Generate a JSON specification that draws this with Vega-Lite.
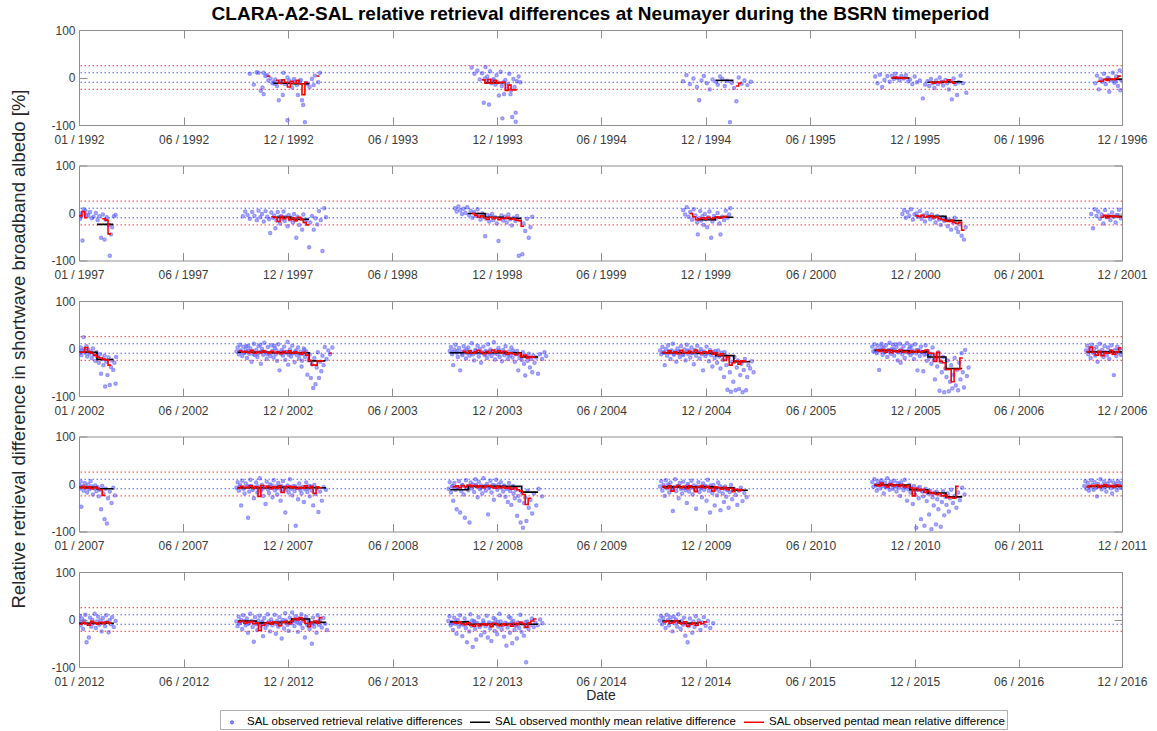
{
  "$schema": "https://vega.github.io/schema/vega-lite/v6.json",
  "background": "white",
  "padding": {"left": 9, "top": 4, "right": 5, "bottom": 0},
  "title": {"text": "CLARA-A2-SAL relative retrieval differences at Neumayer during the BSRN timeperiod", "fontSize": 19, "fontWeight": "bold", "font": "Liberation Sans", "color": "#000000", "anchor": "middle", "offset": 0, "dx": 22},
  "config": {
    "font": "Liberation Sans",
    "view": {"stroke": "#8f8f8f", "strokeWidth": 1},
    "axis": {"domain": false, "grid": false, "tickSize": -8, "tickColor": "#8f8f8f", "tickWidth": 1, "labelFont": "Liberation Sans", "labelFontSize": 12, "labelColor": "#3a3a3a", "titleFont": "Liberation Sans", "titleFontWeight": "normal", "titleColor": "#262626"},
    "axisX": {"labelPadding": 17, "labelFlush": false},
    "axisY": {"labelPadding": 12}
  },
  "bounds": "flush",
  "spacing": 40.5,
  "resolve": {"scale": {"x": "independent", "y": "independent"}},
  "datasets": {
    "ref": [{"v": 25}, {"v": -25}, {"v": 10}, {"v": -10}],
    "pts1": [
      {"t":"1992-10-21","v":8},{"t":"1992-10-28","v":-15},{"t":"1992-11-02","v":11},{"t":"1992-11-05","v":10},{"t":"1992-11-09","v":-28},{"t":"1992-11-12","v":-21},{"t":"1992-11-14","v":-35},{"t":"1992-11-14","v":10},{"t":"1992-11-17","v":3},{"t":"1992-11-20","v":5},{"t":"1992-11-22","v":-6},{"t":"1992-11-26","v":-2},{"t":"1992-11-29","v":-12},{"t":"1992-12-01","v":-10},{"t":"1992-12-03","v":-13},{"t":"1992-12-04","v":-4},{"t":"1992-12-07","v":-18},{"t":"1992-12-10","v":-48},{"t":"1992-12-13","v":-8},{"t":"1992-12-15","v":-11},{"t":"1992-12-17","v":-37},{"t":"1992-12-18","v":10},{"t":"1992-12-21","v":-14},{"t":"1992-12-25","v":0},{"t":"1992-12-25","v":-90},{"t":"1992-12-28","v":-6},{"t":"1993-01-02","v":-21},{"t":"1993-01-05","v":-3},{"t":"1993-01-07","v":-10},{"t":"1993-01-10","v":-16},{"t":"1993-01-12","v":-37},{"t":"1993-01-15","v":-8},{"t":"1993-01-17","v":-5},{"t":"1993-01-19","v":-48},{"t":"1993-01-21","v":-58},{"t":"1993-01-24","v":-94},{"t":"1993-01-26","v":-12},{"t":"1993-01-28","v":-13},{"t":"1993-02-01","v":-20},{"t":"1993-02-05","v":-3},{"t":"1993-02-08","v":-16},{"t":"1993-02-10","v":4},{"t":"1993-02-16","v":-10},{"t":"1993-02-19","v":10},
      {"t":"1993-11-07","v":21},{"t":"1993-11-12","v":8},{"t":"1993-11-17","v":15},{"t":"1993-11-21","v":-4},{"t":"1993-11-25","v":9},{"t":"1993-11-28","v":-53},{"t":"1993-11-30","v":-2},{"t":"1993-12-01","v":22},{"t":"1993-12-02","v":-8},{"t":"1993-12-04","v":2},{"t":"1993-12-07","v":-57},{"t":"1993-12-09","v":13},{"t":"1993-12-11","v":-12},{"t":"1993-12-13","v":-6},{"t":"1993-12-15","v":-3},{"t":"1993-12-16","v":-9},{"t":"1993-12-18","v":-15},{"t":"1993-12-20","v":5},{"t":"1993-12-22","v":-10},{"t":"1993-12-24","v":-38},{"t":"1993-12-27","v":12},{"t":"1993-12-29","v":-18},{"t":"1993-12-30","v":-86},{"t":"1994-01-01","v":-10},{"t":"1994-01-02","v":-35},{"t":"1994-01-04","v":-5},{"t":"1994-01-07","v":-23},{"t":"1994-01-09","v":-14},{"t":"1994-01-11","v":8},{"t":"1994-01-13","v":-35},{"t":"1994-01-14","v":-27},{"t":"1994-01-16","v":-83},{"t":"1994-01-18","v":-3},{"t":"1994-01-20","v":-20},{"t":"1994-01-22","v":-74},{"t":"1994-01-22","v":-93},{"t":"1994-01-24","v":-8},{"t":"1994-01-27","v":2},{"t":"1994-01-30","v":-10},
      {"t":"1994-11-06","v":-8},{"t":"1994-11-12","v":5},{"t":"1994-11-18","v":-14},{"t":"1994-11-24","v":-2},{"t":"1994-11-30","v":-20},{"t":"1994-12-04","v":-48},{"t":"1994-12-08","v":-6},{"t":"1994-12-12","v":3},{"t":"1994-12-17","v":-12},{"t":"1994-12-22","v":-25},{"t":"1994-12-27","v":-4},{"t":"1995-01-02","v":-9},{"t":"1995-01-05","v":-15},{"t":"1995-01-09","v":2},{"t":"1995-01-13","v":-3},{"t":"1995-01-17","v":-18},{"t":"1995-01-21","v":-7},{"t":"1995-01-26","v":-94},{"t":"1995-01-29","v":-11},{"t":"1995-02-02","v":-22},{"t":"1995-02-06","v":-50},{"t":"1995-02-10","v":0},{"t":"1995-02-15","v":-13},{"t":"1995-02-20","v":-6},{"t":"1995-02-25","v":-16},{"t":"1995-03-03","v":-9},
      {"t":"1995-10-03","v":2},{"t":"1995-10-07","v":-12},{"t":"1995-10-11","v":6},{"t":"1995-10-15","v":-20},{"t":"1995-10-19","v":-5},{"t":"1995-10-24","v":3},{"t":"1995-10-28","v":-9},{"t":"1995-11-01","v":4},{"t":"1995-11-04","v":-3},{"t":"1995-11-07","v":8},{"t":"1995-11-10","v":-1},{"t":"1995-11-14","v":-6},{"t":"1995-11-17","v":3},{"t":"1995-11-21","v":-2},{"t":"1995-11-25","v":5},{"t":"1995-11-29","v":-8},{"t":"1995-12-02","v":-4},{"t":"1995-12-06","v":-14},{"t":"1995-12-10","v":2},{"t":"1995-12-14","v":-10},{"t":"1995-12-19","v":-6},{"t":"1995-12-24","v":-44},{"t":"1995-12-28","v":-15},{"t":"1996-01-01","v":-8},{"t":"1996-01-04","v":-18},{"t":"1996-01-07","v":-3},{"t":"1996-01-10","v":-12},{"t":"1996-01-13","v":-22},{"t":"1996-01-16","v":-6},{"t":"1996-01-19","v":-14},{"t":"1996-01-22","v":0},{"t":"1996-01-25","v":-9},{"t":"1996-01-28","v":-17},{"t":"1996-02-01","v":-5},{"t":"1996-02-04","v":-12},{"t":"1996-02-07","v":-25},{"t":"1996-02-10","v":-8},{"t":"1996-02-12","v":-46},{"t":"1996-02-15","v":-2},{"t":"1996-02-18","v":-14},{"t":"1996-02-21","v":-37},{"t":"1996-02-24","v":-10},{"t":"1996-02-27","v":4},{"t":"1996-03-02","v":-12},{"t":"1996-03-08","v":-32},
      {"t":"1996-10-16","v":-12},{"t":"1996-10-19","v":4},{"t":"1996-10-22","v":-25},{"t":"1996-10-25","v":-3},{"t":"1996-10-28","v":-9},{"t":"1996-10-31","v":8},{"t":"1996-11-03","v":-14},{"t":"1996-11-06","v":-1},{"t":"1996-11-08","v":-2},{"t":"1996-11-09","v":-30},{"t":"1996-11-12","v":-6},{"t":"1996-11-15","v":10},{"t":"1996-11-18","v":-11},{"t":"1996-11-20","v":-8},{"t":"1996-11-21","v":2},{"t":"1996-11-24","v":-18},{"t":"1996-11-27","v":15},{"t":"1996-11-28","v":-27},{"t":"1996-11-30","v":-5}
    ],
    "mon1": [
      {"t":"1992-12-01","v":-12,"g":1},{"t":"1993-01-01","v":-13,"g":1},{"t":"1993-02-01","v":-13,"g":1},
      {"t":"1993-12-01","v":-11,"g":2},{"t":"1994-01-01","v":-11,"g":2},
      {"t":"1995-01-01","v":-6,"g":3},{"t":"1995-02-01","v":-6,"g":3},
      {"t":"1995-11-01","v":-1,"g":4},{"t":"1995-12-01","v":-1,"g":4},
      {"t":"1996-01-01","v":-10,"g":5},{"t":"1996-02-01","v":-9,"g":5},{"t":"1996-03-01","v":-9,"g":5},
      {"t":"1996-11-01","v":-4,"g":6},{"t":"1996-12-01","v":-4,"g":6}
    ],
    "pen1": [
      {"t":"1992-11-20","v":3,"g":1},{"t":"1992-11-25","v":3,"g":1},
      {"t":"1992-12-05","v":-6,"g":2},{"t":"1992-12-10","v":-12,"g":2},{"t":"1992-12-15","v":-5,"g":2},{"t":"1992-12-20","v":-10,"g":2},{"t":"1992-12-25","v":-20,"g":2},{"t":"1992-12-30","v":-8,"g":2},{"t":"1993-01-04","v":-12,"g":2},{"t":"1993-01-09","v":-6,"g":2},{"t":"1993-01-14","v":-13,"g":2},{"t":"1993-01-19","v":-36,"g":2},{"t":"1993-01-24","v":-10,"g":2},{"t":"1993-01-29","v":-10,"g":2},
      {"t":"1993-02-13","v":3,"g":3},{"t":"1993-02-18","v":3,"g":3},
      {"t":"1993-11-25","v":-5,"g":4},{"t":"1993-11-30","v":-12,"g":4},{"t":"1993-12-05","v":-4,"g":4},{"t":"1993-12-10","v":-12,"g":4},{"t":"1993-12-15","v":-6,"g":4},{"t":"1993-12-20","v":-12,"g":4},{"t":"1993-12-25","v":-10,"g":4},{"t":"1993-12-30","v":-10,"g":4},{"t":"1994-01-04","v":-27,"g":4},{"t":"1994-01-09","v":-16,"g":4},{"t":"1994-01-14","v":-26,"g":4},{"t":"1994-01-19","v":-26,"g":4},{"t":"1994-01-24","v":-26,"g":4},
      {"t":"1995-02-05","v":-18,"g":5},{"t":"1995-02-10","v":-12,"g":5},{"t":"1995-02-15","v":-12,"g":5},
      {"t":"1995-10-30","v":-1,"g":6},{"t":"1995-11-04","v":1,"g":6},{"t":"1995-11-09","v":-1,"g":6},{"t":"1995-11-14","v":0,"g":6},{"t":"1995-11-19","v":-2,"g":6},{"t":"1995-11-24","v":-1,"g":6},{"t":"1995-11-29","v":-1,"g":6},
      {"t":"1996-01-05","v":-10,"g":7},{"t":"1996-01-10","v":-12,"g":7},{"t":"1996-01-15","v":-9,"g":7},{"t":"1996-01-20","v":-11,"g":7},{"t":"1996-01-25","v":-8,"g":7},{"t":"1996-01-30","v":-10,"g":7},{"t":"1996-02-04","v":-5,"g":7},{"t":"1996-02-09","v":-9,"g":7},{"t":"1996-02-14","v":-12,"g":7},{"t":"1996-02-19","v":-12,"g":7},
      {"t":"1996-10-20","v":-8,"g":8},{"t":"1996-10-25","v":-8,"g":8},{"t":"1996-10-30","v":-4,"g":8},{"t":"1996-11-04","v":-6,"g":8},{"t":"1996-11-09","v":-3,"g":8},{"t":"1996-11-14","v":-4,"g":8},{"t":"1996-11-19","v":-2,"g":8},{"t":"1996-11-24","v":3,"g":8},{"t":"1996-11-29","v":3,"g":8}
    ],
    "pts2": [
      {"t":"1997-01-02","v":0},{"t":"1997-01-03","v":-12},{"t":"1997-01-05","v":-7},{"t":"1997-01-07","v":-58},{"t":"1997-01-09","v":8},{"t":"1997-01-12","v":5},{"t":"1997-01-14","v":-5},{"t":"1997-01-17","v":-4},{"t":"1997-01-20","v":2},{"t":"1997-01-23","v":-11},{"t":"1997-01-26","v":-8},{"t":"1997-01-30","v":0},{"t":"1997-02-02","v":-15},{"t":"1997-02-05","v":-7},{"t":"1997-02-08","v":-52},{"t":"1997-02-11","v":-3},{"t":"1997-02-14","v":-56},{"t":"1997-02-16","v":-14},{"t":"1997-02-18","v":-9},{"t":"1997-02-21","v":-25},{"t":"1997-02-23","v":-90},{"t":"1997-02-25","v":-45},{"t":"1997-02-27","v":-30},{"t":"1997-03-02","v":-7},{"t":"1997-03-05","v":-4},
      {"t":"1997-10-10","v":-7},{"t":"1997-10-14","v":3},{"t":"1997-10-18","v":-4},{"t":"1997-10-22","v":-12},{"t":"1997-10-26","v":2},{"t":"1997-10-30","v":-6},{"t":"1997-11-03","v":-15},{"t":"1997-11-06","v":5},{"t":"1997-11-09","v":-9},{"t":"1997-11-12","v":-2},{"t":"1997-11-15","v":-18},{"t":"1997-11-18","v":4},{"t":"1997-11-21","v":-8},{"t":"1997-11-24","v":-13},{"t":"1997-11-26","v":-42},{"t":"1997-11-28","v":1},{"t":"1997-12-01","v":-10},{"t":"1997-12-03","v":-5},{"t":"1997-12-05","v":-32},{"t":"1997-12-07","v":-16},{"t":"1997-12-09","v":2},{"t":"1997-12-11","v":-9},{"t":"1997-12-13","v":-22},{"t":"1997-12-15","v":-6},{"t":"1997-12-17","v":-12},{"t":"1997-12-19","v":3},{"t":"1997-12-21","v":-17},{"t":"1997-12-23","v":-8},{"t":"1997-12-26","v":-28},{"t":"1997-12-28","v":-4},{"t":"1997-12-30","v":-14},{"t":"1998-01-02","v":-10},{"t":"1998-01-04","v":-20},{"t":"1998-01-06","v":-2},{"t":"1998-01-08","v":-15},{"t":"1998-01-10","v":-52},{"t":"1998-01-12","v":-8},{"t":"1998-01-15","v":-25},{"t":"1998-01-18","v":-12},{"t":"1998-01-20","v":-35},{"t":"1998-01-22","v":-3},{"t":"1998-01-25","v":-18},{"t":"1998-01-28","v":-14},{"t":"1998-02-01","v":-72},{"t":"1998-02-03","v":-20},{"t":"1998-02-06","v":-6},{"t":"1998-02-09","v":-35},{"t":"1998-02-12","v":-11},{"t":"1998-02-15","v":-24},{"t":"1998-02-18","v":4},{"t":"1998-02-21","v":-15},{"t":"1998-02-24","v":-80},{"t":"1998-02-27","v":10},{"t":"1998-03-02","v":-9},
      {"t":"1998-10-10","v":10},{"t":"1998-10-13","v":3},{"t":"1998-10-16","v":14},{"t":"1998-10-19","v":6},{"t":"1998-10-22","v":-2},{"t":"1998-10-25","v":9},{"t":"1998-10-28","v":0},{"t":"1998-10-31","v":12},{"t":"1998-11-03","v":-4},{"t":"1998-11-06","v":5},{"t":"1998-11-09","v":-10},{"t":"1998-11-12","v":2},{"t":"1998-11-15","v":-6},{"t":"1998-11-18","v":8},{"t":"1998-11-20","v":-3},{"t":"1998-11-23","v":-14},{"t":"1998-11-26","v":-1},{"t":"1998-11-29","v":-8},{"t":"1998-12-01","v":-49},{"t":"1998-12-03","v":-12},{"t":"1998-12-05","v":-4},{"t":"1998-12-08","v":-18},{"t":"1998-12-10","v":-7},{"t":"1998-12-13","v":-2},{"t":"1998-12-15","v":-15},{"t":"1998-12-18","v":-9},{"t":"1998-12-21","v":-22},{"t":"1998-12-24","v":-59},{"t":"1998-12-26","v":-11},{"t":"1998-12-29","v":-5},{"t":"1999-01-01","v":-16},{"t":"1999-01-04","v":-8},{"t":"1999-01-07","v":-20},{"t":"1999-01-10","v":-3},{"t":"1999-01-13","v":-13},{"t":"1999-01-16","v":-26},{"t":"1999-01-19","v":-10},{"t":"1999-01-22","v":-17},{"t":"1999-01-25","v":-6},{"t":"1999-01-28","v":-90},{"t":"1999-01-30","v":-14},{"t":"1999-02-03","v":-87},{"t":"1999-02-05","v":-22},{"t":"1999-02-08","v":-38},{"t":"1999-02-11","v":-12},{"t":"1999-02-14","v":-52},{"t":"1999-02-17","v":-30},{"t":"1999-02-20","v":-8},
      {"t":"1999-11-07","v":6},{"t":"1999-11-10","v":-3},{"t":"1999-11-13","v":12},{"t":"1999-11-16","v":-8},{"t":"1999-11-19","v":2},{"t":"1999-11-22","v":-14},{"t":"1999-11-25","v":8},{"t":"1999-11-28","v":-5},{"t":"1999-12-01","v":-20},{"t":"1999-12-02","v":-45},{"t":"1999-12-04","v":-11},{"t":"1999-12-06","v":4},{"t":"1999-12-08","v":-16},{"t":"1999-12-10","v":-7},{"t":"1999-12-12","v":-25},{"t":"1999-12-14","v":-2},{"t":"1999-12-16","v":-13},{"t":"1999-12-18","v":-30},{"t":"1999-12-20","v":-9},{"t":"1999-12-22","v":3},{"t":"1999-12-25","v":-52},{"t":"1999-12-27","v":-18},{"t":"1999-12-30","v":-6},{"t":"2000-01-02","v":-12},{"t":"2000-01-05","v":0},{"t":"2000-01-08","v":-22},{"t":"2000-01-10","v":-45},{"t":"2000-01-13","v":-8},{"t":"2000-01-16","v":-15},{"t":"2000-01-19","v":5},{"t":"2000-01-22","v":-10},{"t":"2000-01-25","v":-3},{"t":"2000-01-27","v":10},
      {"t":"2000-11-18","v":-2},{"t":"2000-11-21","v":6},{"t":"2000-11-24","v":-10},{"t":"2000-11-27","v":2},{"t":"2000-11-30","v":-6},{"t":"2000-12-03","v":8},{"t":"2000-12-06","v":-14},{"t":"2000-12-09","v":-3},{"t":"2000-12-12","v":-1},{"t":"2000-12-15","v":-8},{"t":"2000-12-18","v":4},{"t":"2000-12-21","v":-12},{"t":"2000-12-24","v":-5},{"t":"2000-12-27","v":-18},{"t":"2000-12-30","v":0},{"t":"2001-01-02","v":-7},{"t":"2001-01-05","v":-13},{"t":"2001-01-08","v":-3},{"t":"2001-01-11","v":-10},{"t":"2001-01-14","v":-20},{"t":"2001-01-17","v":-6},{"t":"2001-01-20","v":-14},{"t":"2001-01-23","v":-25},{"t":"2001-01-26","v":-9},{"t":"2001-01-29","v":-17},{"t":"2001-02-01","v":-12},{"t":"2001-02-04","v":-28},{"t":"2001-02-07","v":-15},{"t":"2001-02-10","v":-35},{"t":"2001-02-13","v":-20},{"t":"2001-02-16","v":-10},{"t":"2001-02-19","v":-32},{"t":"2001-02-22","v":-40},{"t":"2001-02-25","v":-24},{"t":"2001-02-28","v":-48},{"t":"2001-03-04","v":-56},{"t":"2001-03-07","v":-30},
      {"t":"2001-10-09","v":-2},{"t":"2001-10-12","v":-32},{"t":"2001-10-15","v":8},{"t":"2001-10-18","v":-6},{"t":"2001-10-21","v":3},{"t":"2001-10-24","v":-12},{"t":"2001-10-27","v":-3},{"t":"2001-10-30","v":-22},{"t":"2001-11-02","v":6},{"t":"2001-11-05","v":-9},{"t":"2001-11-08","v":-5},{"t":"2001-11-11","v":-15},{"t":"2001-11-14","v":1},{"t":"2001-11-17","v":-8},{"t":"2001-11-20","v":-20},{"t":"2001-11-23","v":-4},{"t":"2001-11-26","v":7},{"t":"2001-11-29","v":-11}
    ],
    "mon2": [
      {"t":"1997-02-01","v":-24,"g":1},{"t":"1997-03-01","v":-24,"g":1},
      {"t":"1997-12-01","v":-9,"g":2},{"t":"1998-01-01","v":-13,"g":2},{"t":"1998-02-01","v":-13,"g":2},
      {"t":"1998-11-01","v":-1,"g":3},{"t":"1998-12-01","v":-9,"g":3},{"t":"1999-01-01","v":-11,"g":3},{"t":"1999-02-01","v":-11,"g":3},
      {"t":"1999-12-01","v":-14,"g":4},{"t":"2000-01-01","v":-9,"g":4},{"t":"2000-02-01","v":-9,"g":4},
      {"t":"2001-01-01","v":-7,"g":5},{"t":"2001-02-01","v":-16,"g":5},{"t":"2001-03-01","v":-16,"g":5},
      {"t":"2001-11-01","v":-7,"g":6},{"t":"2001-12-01","v":-7,"g":6}
    ],
    "pen2": [
      {"t":"1997-01-01","v":-6,"g":1},{"t":"1997-01-06","v":3,"g":1},{"t":"1997-01-11","v":-10,"g":1},{"t":"1997-01-16","v":-10,"g":1},
      {"t":"1997-02-10","v":-12,"g":2},{"t":"1997-02-15","v":-15,"g":2},{"t":"1997-02-20","v":-44,"g":2},{"t":"1997-02-25","v":-44,"g":2},
      {"t":"1997-11-28","v":-8,"g":3},{"t":"1997-12-03","v":-10,"g":3},{"t":"1997-12-08","v":-18,"g":3},{"t":"1997-12-13","v":-7,"g":3},{"t":"1997-12-18","v":-12,"g":3},{"t":"1997-12-23","v":-9,"g":3},{"t":"1997-12-28","v":-14,"g":3},{"t":"1998-01-02","v":-10,"g":3},{"t":"1998-01-07","v":-16,"g":3},{"t":"1998-01-12","v":-9,"g":3},{"t":"1998-01-17","v":-14,"g":3},{"t":"1998-01-22","v":-20,"g":3},{"t":"1998-01-27","v":-25,"g":3},{"t":"1998-02-01","v":-25,"g":3},
      {"t":"1998-11-08","v":-1,"g":4},{"t":"1998-11-13","v":-5,"g":4},{"t":"1998-11-18","v":-9,"g":4},{"t":"1998-11-23","v":-6,"g":4},{"t":"1998-11-28","v":-10,"g":4},{"t":"1998-12-03","v":-13,"g":4},{"t":"1998-12-08","v":-9,"g":4},{"t":"1998-12-13","v":-12,"g":4},{"t":"1998-12-18","v":-10,"g":4},{"t":"1998-12-23","v":-14,"g":4},{"t":"1998-12-28","v":-11,"g":4},{"t":"1999-01-02","v":-12,"g":4},{"t":"1999-01-07","v":-9,"g":4},{"t":"1999-01-12","v":-13,"g":4},{"t":"1999-01-17","v":-12,"g":4},{"t":"1999-01-22","v":-15,"g":4},{"t":"1999-01-27","v":-16,"g":4},{"t":"1999-02-01","v":-28,"g":4},{"t":"1999-02-06","v":-28,"g":4},
      {"t":"1999-11-18","v":-1,"g":5},{"t":"1999-11-23","v":-8,"g":5},{"t":"1999-11-28","v":-14,"g":5},{"t":"1999-12-03","v":-12,"g":5},{"t":"1999-12-08","v":-10,"g":5},{"t":"1999-12-13","v":-13,"g":5},{"t":"1999-12-18","v":-9,"g":5},{"t":"1999-12-23","v":-12,"g":5},{"t":"1999-12-28","v":-10,"g":5},{"t":"2000-01-02","v":-8,"g":5},{"t":"2000-01-07","v":-11,"g":5},{"t":"2000-01-12","v":-9,"g":5},{"t":"2000-01-17","v":-7,"g":5},{"t":"2000-01-22","v":-7,"g":5},
      {"t":"2000-12-10","v":-6,"g":6},{"t":"2000-12-15","v":-8,"g":6},{"t":"2000-12-20","v":-5,"g":6},{"t":"2000-12-25","v":-9,"g":6},{"t":"2000-12-30","v":-7,"g":6},{"t":"2001-01-04","v":-6,"g":6},{"t":"2001-01-09","v":-10,"g":6},{"t":"2001-01-14","v":-8,"g":6},{"t":"2001-01-19","v":-12,"g":6},{"t":"2001-01-24","v":-14,"g":6},{"t":"2001-01-29","v":-16,"g":6},{"t":"2001-02-03","v":-18,"g":6},{"t":"2001-02-08","v":-15,"g":6},{"t":"2001-02-13","v":-20,"g":6},{"t":"2001-02-18","v":-22,"g":6},{"t":"2001-02-23","v":-20,"g":6},{"t":"2001-02-28","v":-36,"g":6},{"t":"2001-03-05","v":-36,"g":6},
      {"t":"2001-10-25","v":-9,"g":7},{"t":"2001-10-30","v":-5,"g":7},{"t":"2001-11-04","v":-10,"g":7},{"t":"2001-11-09","v":-6,"g":7},{"t":"2001-11-14","v":-8,"g":7},{"t":"2001-11-19","v":-7,"g":7},{"t":"2001-11-24","v":-9,"g":7},{"t":"2001-11-29","v":-9,"g":7}
    ],
    "pts3": [
      {"t":"2002-01-01","v":-4},{"t":"2002-01-02","v":-10},{"t":"2002-01-04","v":2},{"t":"2002-01-05","v":-14},{"t":"2002-01-07","v":-6},{"t":"2002-01-09","v":24},{"t":"2002-01-10","v":-1},{"t":"2002-01-12","v":-9},{"t":"2002-01-14","v":5},{"t":"2002-01-15","v":-17},{"t":"2002-01-17","v":-3},{"t":"2002-01-19","v":-11},{"t":"2002-01-21","v":-7},{"t":"2002-01-23","v":-20},{"t":"2002-01-25","v":0},{"t":"2002-01-27","v":-13},{"t":"2002-01-29","v":-26},{"t":"2002-01-31","v":-8},{"t":"2002-02-02","v":-18},{"t":"2002-02-04","v":-30},{"t":"2002-02-06","v":-12},{"t":"2002-02-08","v":-53},{"t":"2002-02-10","v":-22},{"t":"2002-02-12","v":-35},{"t":"2002-02-14","v":-15},{"t":"2002-02-15","v":-80},{"t":"2002-02-17","v":-28},{"t":"2002-02-19","v":-56},{"t":"2002-02-21","v":-19},{"t":"2002-02-23","v":-77},{"t":"2002-02-25","v":-39},{"t":"2002-02-27","v":-25},{"t":"2002-03-01","v":-45},{"t":"2002-03-03","v":-30},{"t":"2002-03-05","v":-74},{"t":"2002-03-06","v":-18},
      {"t":"2002-09-29","v":-6},{"t":"2002-10-01","v":2},{"t":"2002-10-03","v":-12},{"t":"2002-10-04","v":-7},{"t":"2002-10-05","v":8},{"t":"2002-10-07","v":-4},{"t":"2002-10-09","v":-16},{"t":"2002-10-11","v":4},{"t":"2002-10-12","v":-9},{"t":"2002-10-13","v":-9},{"t":"2002-10-15","v":-2},{"t":"2002-10-16","v":5},{"t":"2002-10-17","v":-20},{"t":"2002-10-19","v":6},{"t":"2002-10-20","v":-5},{"t":"2002-10-21","v":-11},{"t":"2002-10-23","v":0},{"t":"2002-10-25","v":-28},{"t":"2002-10-27","v":-6},{"t":"2002-10-28","v":-12},{"t":"2002-10-29","v":10},{"t":"2002-10-31","v":-14},{"t":"2002-11-02","v":-3},{"t":"2002-11-04","v":-18},{"t":"2002-11-05","v":-10},{"t":"2002-11-06","v":5},{"t":"2002-11-08","v":-8},{"t":"2002-11-09","v":8},{"t":"2002-11-10","v":-32},{"t":"2002-11-12","v":-1},{"t":"2002-11-13","v":-6},{"t":"2002-11-14","v":-13},{"t":"2002-11-16","v":12},{"t":"2002-11-18","v":-7},{"t":"2002-11-20","v":-22},{"t":"2002-11-21","v":-12},{"t":"2002-11-22","v":3},{"t":"2002-11-24","v":-10},{"t":"2002-11-26","v":-16},{"t":"2002-11-28","v":7},{"t":"2002-11-29","v":-9},{"t":"2002-11-30","v":-5},{"t":"2002-12-02","v":-19},{"t":"2002-12-03","v":6},{"t":"2002-12-04","v":1},{"t":"2002-12-06","v":-12},{"t":"2002-12-07","v":-4},{"t":"2002-12-08","v":-26},{"t":"2002-12-10","v":9},{"t":"2002-12-12","v":-46},{"t":"2002-12-14","v":-8},{"t":"2002-12-15","v":-11},{"t":"2002-12-16","v":-3},{"t":"2002-12-18","v":-15},{"t":"2002-12-20","v":4},{"t":"2002-12-22","v":-24},{"t":"2002-12-23","v":-7},{"t":"2002-12-24","v":-9},{"t":"2002-12-26","v":14},{"t":"2002-12-27","v":-34},{"t":"2002-12-28","v":-13},{"t":"2002-12-30","v":-2},{"t":"2002-12-31","v":-10},{"t":"2003-01-01","v":-17},{"t":"2003-01-03","v":6},{"t":"2003-01-05","v":-10},{"t":"2003-01-07","v":-29},{"t":"2003-01-08","v":-8},{"t":"2003-01-09","v":-4},{"t":"2003-01-11","v":-14},{"t":"2003-01-13","v":2},{"t":"2003-01-15","v":-21},{"t":"2003-01-16","v":-12},{"t":"2003-01-17","v":-7},{"t":"2003-01-19","v":-38},{"t":"2003-01-20","v":-26},{"t":"2003-01-21","v":-11},{"t":"2003-01-23","v":0},{"t":"2003-01-24","v":-3},{"t":"2003-01-25","v":-18},{"t":"2003-01-27","v":-6},{"t":"2003-01-29","v":-55},{"t":"2003-01-31","v":-25},{"t":"2003-02-02","v":-12},{"t":"2003-02-04","v":-62},{"t":"2003-02-06","v":-33},{"t":"2003-02-08","v":-83},{"t":"2003-02-10","v":-20},{"t":"2003-02-12","v":-75},{"t":"2003-02-14","v":-40},{"t":"2003-02-16","v":-8},{"t":"2003-02-18","v":-62},{"t":"2003-02-20","v":-28},{"t":"2003-02-22","v":-48},{"t":"2003-02-24","v":-15},{"t":"2003-02-26","v":-35},{"t":"2003-02-28","v":3},{"t":"2003-03-03","v":-22},{"t":"2003-03-06","v":-4},{"t":"2003-03-09","v":-12},{"t":"2003-03-13","v":2},
      {"t":"2003-10-01","v":-5},{"t":"2003-10-03","v":3},{"t":"2003-10-05","v":-12},{"t":"2003-10-06","v":-8},{"t":"2003-10-07","v":-35},{"t":"2003-10-09","v":-2},{"t":"2003-10-11","v":8},{"t":"2003-10-13","v":-9},{"t":"2003-10-14","v":-5},{"t":"2003-10-15","v":-18},{"t":"2003-10-17","v":1},{"t":"2003-10-19","v":-46},{"t":"2003-10-21","v":-7},{"t":"2003-10-22","v":-11},{"t":"2003-10-23","v":-14},{"t":"2003-10-25","v":5},{"t":"2003-10-27","v":-4},{"t":"2003-10-29","v":-21},{"t":"2003-10-30","v":-2},{"t":"2003-10-31","v":-10},{"t":"2003-11-02","v":2},{"t":"2003-11-04","v":-15},{"t":"2003-11-06","v":-6},{"t":"2003-11-07","v":-10},{"t":"2003-11-08","v":11},{"t":"2003-11-10","v":-12},{"t":"2003-11-12","v":-25},{"t":"2003-11-14","v":-3},{"t":"2003-11-15","v":-4},{"t":"2003-11-16","v":-9},{"t":"2003-11-18","v":6},{"t":"2003-11-20","v":-17},{"t":"2003-11-22","v":-1},{"t":"2003-11-23","v":-9},{"t":"2003-11-24","v":-30},{"t":"2003-11-26","v":-8},{"t":"2003-11-28","v":4},{"t":"2003-11-30","v":-13},{"t":"2003-12-01","v":-12},{"t":"2003-12-02","v":-5},{"t":"2003-12-04","v":-20},{"t":"2003-12-06","v":9},{"t":"2003-12-08","v":-11},{"t":"2003-12-09","v":-6},{"t":"2003-12-10","v":-2},{"t":"2003-12-12","v":-16},{"t":"2003-12-14","v":-7},{"t":"2003-12-16","v":13},{"t":"2003-12-17","v":-10},{"t":"2003-12-18","v":-23},{"t":"2003-12-20","v":-4},{"t":"2003-12-22","v":-12},{"t":"2003-12-24","v":1},{"t":"2003-12-25","v":-5},{"t":"2003-12-26","v":-18},{"t":"2003-12-28","v":-8},{"t":"2003-12-30","v":-27},{"t":"2004-01-01","v":-3},{"t":"2004-01-02","v":-9},{"t":"2004-01-03","v":-14},{"t":"2004-01-05","v":5},{"t":"2004-01-07","v":-10},{"t":"2004-01-09","v":-22},{"t":"2004-01-10","v":-13},{"t":"2004-01-11","v":-6},{"t":"2004-01-13","v":-15},{"t":"2004-01-15","v":2},{"t":"2004-01-17","v":-19},{"t":"2004-01-18","v":-4},{"t":"2004-01-19","v":-9},{"t":"2004-01-21","v":-28},{"t":"2004-01-23","v":-12},{"t":"2004-01-25","v":-5},{"t":"2004-01-26","v":-11},{"t":"2004-01-27","v":-46},{"t":"2004-01-29","v":-20},{"t":"2004-01-31","v":-14},{"t":"2004-02-02","v":-24},{"t":"2004-02-04","v":-8},{"t":"2004-02-06","v":-32},{"t":"2004-02-08","v":-57},{"t":"2004-02-10","v":-17},{"t":"2004-02-12","v":-26},{"t":"2004-02-14","v":-11},{"t":"2004-02-16","v":-40},{"t":"2004-02-18","v":-22},{"t":"2004-02-20","v":-50},{"t":"2004-02-22","v":-15},{"t":"2004-02-24","v":-30},{"t":"2004-02-27","v":-19},{"t":"2004-03-01","v":-53},{"t":"2004-03-04","v":-12},{"t":"2004-03-08","v":-22},{"t":"2004-03-12","v":-8},{"t":"2004-03-15","v":-16},
      {"t":"2004-09-27","v":-4},{"t":"2004-09-29","v":-12},{"t":"2004-10-01","v":3},{"t":"2004-10-03","v":-8},{"t":"2004-10-04","v":-9},{"t":"2004-10-05","v":-35},{"t":"2004-10-07","v":-1},{"t":"2004-10-09","v":-15},{"t":"2004-10-11","v":7},{"t":"2004-10-12","v":-5},{"t":"2004-10-13","v":-9},{"t":"2004-10-15","v":-22},{"t":"2004-10-17","v":-4},{"t":"2004-10-19","v":10},{"t":"2004-10-20","v":-11},{"t":"2004-10-21","v":-13},{"t":"2004-10-23","v":-6},{"t":"2004-10-25","v":-28},{"t":"2004-10-27","v":0},{"t":"2004-10-28","v":-7},{"t":"2004-10-29","v":-10},{"t":"2004-10-31","v":-18},{"t":"2004-11-02","v":5},{"t":"2004-11-04","v":-7},{"t":"2004-11-05","v":-12},{"t":"2004-11-06","v":-14},{"t":"2004-11-08","v":-2},{"t":"2004-11-10","v":-25},{"t":"2004-11-12","v":8},{"t":"2004-11-13","v":-4},{"t":"2004-11-14","v":-11},{"t":"2004-11-16","v":-5},{"t":"2004-11-18","v":-19},{"t":"2004-11-20","v":2},{"t":"2004-11-21","v":-10},{"t":"2004-11-22","v":-9},{"t":"2004-11-24","v":-33},{"t":"2004-11-26","v":-3},{"t":"2004-11-28","v":-15},{"t":"2004-11-29","v":-8},{"t":"2004-11-30","v":6},{"t":"2004-12-02","v":-8},{"t":"2004-12-04","v":-21},{"t":"2004-12-06","v":-1},{"t":"2004-12-07","v":-6},{"t":"2004-12-08","v":-12},{"t":"2004-12-10","v":-46},{"t":"2004-12-12","v":-6},{"t":"2004-12-14","v":-16},{"t":"2004-12-15","v":-11},{"t":"2004-12-16","v":4},{"t":"2004-12-18","v":-10},{"t":"2004-12-20","v":-27},{"t":"2004-12-22","v":-3},{"t":"2004-12-23","v":-9},{"t":"2004-12-24","v":-14},{"t":"2004-12-26","v":-38},{"t":"2004-12-28","v":-8},{"t":"2004-12-30","v":-20},{"t":"2004-12-31","v":-5},{"t":"2005-01-01","v":-11},{"t":"2005-01-03","v":-30},{"t":"2005-01-05","v":-4},{"t":"2005-01-07","v":-17},{"t":"2005-01-08","v":-13},{"t":"2005-01-09","v":-42},{"t":"2005-01-11","v":-9},{"t":"2005-01-13","v":-24},{"t":"2005-01-15","v":-60},{"t":"2005-01-16","v":-8},{"t":"2005-01-17","v":-14},{"t":"2005-01-19","v":-35},{"t":"2005-01-21","v":-87},{"t":"2005-01-23","v":-20},{"t":"2005-01-25","v":-50},{"t":"2005-01-27","v":-91},{"t":"2005-01-29","v":-28},{"t":"2005-01-31","v":-70},{"t":"2005-02-02","v":-18},{"t":"2005-02-04","v":-88},{"t":"2005-02-06","v":-40},{"t":"2005-02-08","v":-25},{"t":"2005-02-10","v":-85},{"t":"2005-02-12","v":-56},{"t":"2005-02-14","v":-32},{"t":"2005-02-16","v":-92},{"t":"2005-02-18","v":-45},{"t":"2005-02-20","v":-22},{"t":"2005-02-22","v":-88},{"t":"2005-02-24","v":-60},{"t":"2005-02-26","v":-35},{"t":"2005-03-01","v":-42},{"t":"2005-03-04","v":-27},{"t":"2005-03-07","v":-50},
      {"t":"2005-09-27","v":4},{"t":"2005-09-29","v":-6},{"t":"2005-10-01","v":9},{"t":"2005-10-02","v":-6},{"t":"2005-10-03","v":-2},{"t":"2005-10-05","v":-10},{"t":"2005-10-07","v":6},{"t":"2005-10-09","v":-45},{"t":"2005-10-10","v":-3},{"t":"2005-10-11","v":-4},{"t":"2005-10-13","v":10},{"t":"2005-10-14","v":4},{"t":"2005-10-15","v":-13},{"t":"2005-10-17","v":1},{"t":"2005-10-18","v":-7},{"t":"2005-10-19","v":-8},{"t":"2005-10-21","v":7},{"t":"2005-10-23","v":-18},{"t":"2005-10-25","v":-3},{"t":"2005-10-26","v":-5},{"t":"2005-10-27","v":12},{"t":"2005-10-29","v":-11},{"t":"2005-10-31","v":-1},{"t":"2005-11-02","v":8},{"t":"2005-11-03","v":-2},{"t":"2005-11-04","v":-15},{"t":"2005-11-06","v":-5},{"t":"2005-11-07","v":9},{"t":"2005-11-08","v":3},{"t":"2005-11-10","v":-25},{"t":"2005-11-11","v":-8},{"t":"2005-11-12","v":-7},{"t":"2005-11-14","v":10},{"t":"2005-11-15","v":-30},{"t":"2005-11-16","v":-2},{"t":"2005-11-18","v":-12},{"t":"2005-11-19","v":-4},{"t":"2005-11-20","v":5},{"t":"2005-11-22","v":-20},{"t":"2005-11-24","v":-6},{"t":"2005-11-26","v":11},{"t":"2005-11-27","v":-6},{"t":"2005-11-28","v":-9},{"t":"2005-11-30","v":-1},{"t":"2005-12-01","v":3},{"t":"2005-12-02","v":-14},{"t":"2005-12-04","v":6},{"t":"2005-12-05","v":-9},{"t":"2005-12-06","v":-4},{"t":"2005-12-08","v":-22},{"t":"2005-12-10","v":9},{"t":"2005-12-12","v":-10},{"t":"2005-12-13","v":-3},{"t":"2005-12-14","v":-46},{"t":"2005-12-16","v":-3},{"t":"2005-12-18","v":-16},{"t":"2005-12-20","v":4},{"t":"2005-12-21","v":-7},{"t":"2005-12-22","v":-8},{"t":"2005-12-24","v":-48},{"t":"2005-12-26","v":-13},{"t":"2005-12-28","v":7},{"t":"2005-12-29","v":-11},{"t":"2005-12-30","v":-26},{"t":"2006-01-01","v":-5},{"t":"2006-01-03","v":-19},{"t":"2006-01-05","v":-11},{"t":"2006-01-06","v":-12},{"t":"2006-01-07","v":-32},{"t":"2006-01-09","v":2},{"t":"2006-01-11","v":-24},{"t":"2006-01-13","v":-65},{"t":"2006-01-15","v":-14},{"t":"2006-01-16","v":-20},{"t":"2006-01-17","v":-38},{"t":"2006-01-19","v":-8},{"t":"2006-01-21","v":-89},{"t":"2006-01-23","v":-28},{"t":"2006-01-25","v":-50},{"t":"2006-01-27","v":-18},{"t":"2006-01-29","v":-92},{"t":"2006-01-31","v":-42},{"t":"2006-02-02","v":-60},{"t":"2006-02-04","v":-25},{"t":"2006-02-06","v":-90},{"t":"2006-02-08","v":-70},{"t":"2006-02-10","v":-35},{"t":"2006-02-12","v":-84},{"t":"2006-02-14","v":-55},{"t":"2006-02-16","v":-20},{"t":"2006-02-18","v":-78},{"t":"2006-02-20","v":-45},{"t":"2006-02-22","v":-88},{"t":"2006-02-24","v":-30},{"t":"2006-02-26","v":-65},{"t":"2006-02-28","v":-10},{"t":"2006-03-02","v":-50},{"t":"2006-03-04","v":-82},{"t":"2006-03-06","v":-3},{"t":"2006-03-09","v":-58},{"t":"2006-03-12","v":-40},
      {"t":"2006-09-30","v":-4},{"t":"2006-10-02","v":6},{"t":"2006-10-04","v":-12},{"t":"2006-10-06","v":-2},{"t":"2006-10-08","v":-20},{"t":"2006-10-10","v":8},{"t":"2006-10-12","v":-9},{"t":"2006-10-14","v":-1},{"t":"2006-10-16","v":-15},{"t":"2006-10-18","v":3},{"t":"2006-10-20","v":-28},{"t":"2006-10-22","v":-6},{"t":"2006-10-24","v":10},{"t":"2006-10-26","v":-11},{"t":"2006-10-28","v":-3},{"t":"2006-10-30","v":-18},{"t":"2006-11-01","v":5},{"t":"2006-11-03","v":-8},{"t":"2006-11-05","v":-14},{"t":"2006-11-07","v":2},{"t":"2006-11-09","v":-22},{"t":"2006-11-11","v":-5},{"t":"2006-11-13","v":7},{"t":"2006-11-15","v":-10},{"t":"2006-11-17","v":-56},{"t":"2006-11-19","v":-3},{"t":"2006-11-21","v":-16},{"t":"2006-11-23","v":4},{"t":"2006-11-25","v":-9},{"t":"2006-11-27","v":-1},{"t":"2006-11-29","v":-13}
    ],
    "mon3": [
      {"t":"2002-01-01","v":-8,"g":1},{"t":"2002-02-01","v":-23,"g":1},{"t":"2002-03-01","v":-23,"g":1},
      {"t":"2002-10-01","v":-8,"g":2},{"t":"2002-11-01","v":-8,"g":2},{"t":"2002-12-01","v":-9,"g":2},{"t":"2003-01-01","v":-9,"g":2},{"t":"2003-02-01","v":-26,"g":2},{"t":"2003-03-01","v":-26,"g":2},
      {"t":"2003-10-01","v":-9,"g":3},{"t":"2003-11-01","v":-9,"g":3},{"t":"2003-12-01","v":-9,"g":3},{"t":"2004-01-01","v":-9,"g":3},{"t":"2004-02-01","v":-18,"g":3},{"t":"2004-03-01","v":-18,"g":3},
      {"t":"2004-10-01","v":-9,"g":4},{"t":"2004-11-01","v":-9,"g":4},{"t":"2004-12-01","v":-10,"g":4},{"t":"2005-01-01","v":-15,"g":4},{"t":"2005-02-01","v":-28,"g":4},{"t":"2005-03-01","v":-28,"g":4},
      {"t":"2005-10-01","v":-4,"g":5},{"t":"2005-11-01","v":-5,"g":5},{"t":"2005-12-01","v":-7,"g":5},{"t":"2006-01-01","v":-18,"g":5},{"t":"2006-02-01","v":-42,"g":5},{"t":"2006-03-01","v":-42,"g":5},
      {"t":"2006-10-01","v":-7,"g":6},{"t":"2006-11-01","v":-7,"g":6},{"t":"2006-12-01","v":-7,"g":6}
    ],
    "pen3": [
      {"t":"2002-01-01","v":-8,"g":1},{"t":"2002-01-06","v":-8,"g":1},{"t":"2002-01-11","v":2,"g":1},{"t":"2002-01-16","v":-7,"g":1},{"t":"2002-01-21","v":-10,"g":1},{"t":"2002-01-26","v":-14,"g":1},{"t":"2002-01-31","v":-18,"g":1},{"t":"2002-02-05","v":-20,"g":1},{"t":"2002-02-10","v":-22,"g":1},{"t":"2002-02-15","v":-24,"g":1},{"t":"2002-02-20","v":-35,"g":1},{"t":"2002-02-25","v":-35,"g":1},
      {"t":"2002-10-03","v":-5,"g":2},{"t":"2002-10-08","v":-8,"g":2},{"t":"2002-10-13","v":-6,"g":2},{"t":"2002-10-18","v":-9,"g":2},{"t":"2002-10-23","v":-4,"g":2},{"t":"2002-10-28","v":-10,"g":2},{"t":"2002-11-02","v":-7,"g":2},{"t":"2002-11-07","v":-9,"g":2},{"t":"2002-11-12","v":-5,"g":2},{"t":"2002-11-17","v":-8,"g":2},{"t":"2002-11-22","v":-10,"g":2},{"t":"2002-11-27","v":-6,"g":2},{"t":"2002-12-02","v":-9,"g":2},{"t":"2002-12-07","v":-7,"g":2},{"t":"2002-12-12","v":-11,"g":2},{"t":"2002-12-17","v":-6,"g":2},{"t":"2002-12-22","v":-9,"g":2},{"t":"2002-12-27","v":-5,"g":2},{"t":"2003-01-01","v":-10,"g":2},{"t":"2003-01-06","v":-7,"g":2},{"t":"2003-01-11","v":-9,"g":2},{"t":"2003-01-16","v":-12,"g":2},{"t":"2003-01-21","v":-8,"g":2},{"t":"2003-01-26","v":-14,"g":2},{"t":"2003-01-31","v":-25,"g":2},{"t":"2003-02-05","v":-35,"g":2},{"t":"2003-02-10","v":-35,"g":2},{"t":"2003-02-15","v":-26,"g":2},{"t":"2003-02-20","v":-26,"g":2},{"t":"2003-02-25","v":-26,"g":2},
      {"t":"2003-03-08","v":-10,"g":3},{"t":"2003-03-12","v":-10,"g":3},
      {"t":"2003-10-23","v":-6,"g":4},{"t":"2003-10-28","v":-9,"g":4},{"t":"2003-11-02","v":-5,"g":4},{"t":"2003-11-07","v":-10,"g":4},{"t":"2003-11-12","v":-7,"g":4},{"t":"2003-11-17","v":-4,"g":4},{"t":"2003-11-22","v":-8,"g":4},{"t":"2003-11-27","v":-11,"g":4},{"t":"2003-12-02","v":-6,"g":4},{"t":"2003-12-07","v":-9,"g":4},{"t":"2003-12-12","v":-3,"g":4},{"t":"2003-12-17","v":-8,"g":4},{"t":"2003-12-22","v":-5,"g":4},{"t":"2003-12-27","v":-10,"g":4},{"t":"2004-01-01","v":-6,"g":4},{"t":"2004-01-06","v":-12,"g":4},{"t":"2004-01-11","v":-9,"g":4},{"t":"2004-01-16","v":-11,"g":4},{"t":"2004-01-21","v":-13,"g":4},{"t":"2004-01-26","v":-10,"g":4},{"t":"2004-01-31","v":-17,"g":4},{"t":"2004-02-05","v":-14,"g":4},{"t":"2004-02-10","v":-20,"g":4},{"t":"2004-02-15","v":-17,"g":4},{"t":"2004-02-20","v":-19,"g":4},{"t":"2004-02-25","v":-19,"g":4},
      {"t":"2004-10-01","v":-8,"g":5},{"t":"2004-10-06","v":-10,"g":5},{"t":"2004-10-11","v":-5,"g":5},{"t":"2004-10-16","v":-9,"g":5},{"t":"2004-10-21","v":-7,"g":5},{"t":"2004-10-26","v":-11,"g":5},{"t":"2004-10-31","v":-4,"g":5},{"t":"2004-11-05","v":-8,"g":5},{"t":"2004-11-10","v":-10,"g":5},{"t":"2004-11-15","v":-6,"g":5},{"t":"2004-11-20","v":-9,"g":5},{"t":"2004-11-25","v":-3,"g":5},{"t":"2004-11-30","v":-8,"g":5},{"t":"2004-12-05","v":-11,"g":5},{"t":"2004-12-10","v":-7,"g":5},{"t":"2004-12-15","v":-10,"g":5},{"t":"2004-12-20","v":-5,"g":5},{"t":"2004-12-25","v":-12,"g":5},{"t":"2004-12-30","v":-9,"g":5},{"t":"2005-01-04","v":-14,"g":5},{"t":"2005-01-09","v":-11,"g":5},{"t":"2005-01-14","v":-25,"g":5},{"t":"2005-01-19","v":-18,"g":5},{"t":"2005-01-24","v":-35,"g":5},{"t":"2005-01-29","v":-30,"g":5},{"t":"2005-02-03","v":-26,"g":5},{"t":"2005-02-08","v":-33,"g":5},{"t":"2005-02-13","v":-26,"g":5},{"t":"2005-02-18","v":-27,"g":5},{"t":"2005-02-23","v":-27,"g":5},
      {"t":"2005-10-03","v":-3,"g":6},{"t":"2005-10-08","v":-6,"g":6},{"t":"2005-10-13","v":-2,"g":6},{"t":"2005-10-18","v":-8,"g":6},{"t":"2005-10-23","v":-4,"g":6},{"t":"2005-10-28","v":-9,"g":6},{"t":"2005-11-02","v":-5,"g":6},{"t":"2005-11-07","v":-7,"g":6},{"t":"2005-11-12","v":-3,"g":6},{"t":"2005-11-17","v":-8,"g":6},{"t":"2005-11-22","v":-6,"g":6},{"t":"2005-11-27","v":-9,"g":6},{"t":"2005-12-02","v":-5,"g":6},{"t":"2005-12-07","v":-8,"g":6},{"t":"2005-12-12","v":-4,"g":6},{"t":"2005-12-17","v":-7,"g":6},{"t":"2005-12-22","v":-5,"g":6},{"t":"2005-12-27","v":-3,"g":6},{"t":"2006-01-01","v":-10,"g":6},{"t":"2006-01-06","v":-10,"g":6},{"t":"2006-01-11","v":-27,"g":6},{"t":"2006-01-16","v":-8,"g":6},{"t":"2006-01-21","v":-27,"g":6},{"t":"2006-01-26","v":-30,"g":6},{"t":"2006-01-31","v":-44,"g":6},{"t":"2006-02-05","v":-44,"g":6},{"t":"2006-02-10","v":-70,"g":6},{"t":"2006-02-15","v":-44,"g":6},{"t":"2006-02-20","v":-44,"g":6},{"t":"2006-02-25","v":-20,"g":6},{"t":"2006-03-02","v":-20,"g":6},
      {"t":"2006-10-01","v":-7,"g":7},{"t":"2006-10-06","v":3,"g":7},{"t":"2006-10-11","v":-8,"g":7},{"t":"2006-10-16","v":-14,"g":7},{"t":"2006-10-21","v":-6,"g":7},{"t":"2006-10-26","v":-15,"g":7},{"t":"2006-10-31","v":-8,"g":7},{"t":"2006-11-05","v":-10,"g":7},{"t":"2006-11-10","v":-4,"g":7},{"t":"2006-11-15","v":-12,"g":7},{"t":"2006-11-20","v":-7,"g":7},{"t":"2006-11-25","v":1,"g":7},{"t":"2006-11-30","v":1,"g":7}
    ],
    "pts4": [
      {"t":"2007-01-01","v":-2},{"t":"2007-01-02","v":-10},{"t":"2007-01-04","v":5},{"t":"2007-01-05","v":-48},{"t":"2007-01-07","v":-6},{"t":"2007-01-09","v":-14},{"t":"2007-01-11","v":2},{"t":"2007-01-13","v":-8},{"t":"2007-01-15","v":-18},{"t":"2007-01-17","v":-1},{"t":"2007-01-19","v":-11},{"t":"2007-01-21","v":6},{"t":"2007-01-23","v":-5},{"t":"2007-01-25","v":-22},{"t":"2007-01-27","v":-9},{"t":"2007-01-29","v":-3},{"t":"2007-01-31","v":-15},{"t":"2007-02-02","v":-7},{"t":"2007-02-04","v":-26},{"t":"2007-02-06","v":-12},{"t":"2007-02-08","v":-53},{"t":"2007-02-10","v":-4},{"t":"2007-02-12","v":-20},{"t":"2007-02-14","v":-74},{"t":"2007-02-16","v":-10},{"t":"2007-02-18","v":-83},{"t":"2007-02-20","v":-30},{"t":"2007-02-23","v":-16},{"t":"2007-02-26","v":-40},{"t":"2007-03-01","v":-8},{"t":"2007-03-04","v":-24},
      {"t":"2007-09-29","v":-8},{"t":"2007-10-01","v":4},{"t":"2007-10-03","v":-14},{"t":"2007-10-04","v":-6},{"t":"2007-10-05","v":-2},{"t":"2007-10-07","v":-45},{"t":"2007-10-09","v":7},{"t":"2007-10-11","v":-10},{"t":"2007-10-12","v":-8},{"t":"2007-10-13","v":-20},{"t":"2007-10-15","v":1},{"t":"2007-10-17","v":-6},{"t":"2007-10-19","v":-71},{"t":"2007-10-20","v":-4},{"t":"2007-10-21","v":-16},{"t":"2007-10-23","v":9},{"t":"2007-10-25","v":-4},{"t":"2007-10-27","v":-12},{"t":"2007-10-28","v":-9},{"t":"2007-10-29","v":-30},{"t":"2007-10-31","v":-7},{"t":"2007-11-02","v":3},{"t":"2007-11-04","v":-18},{"t":"2007-11-05","v":-5},{"t":"2007-11-06","v":-9},{"t":"2007-11-08","v":12},{"t":"2007-11-10","v":-14},{"t":"2007-11-12","v":-2},{"t":"2007-11-13","v":-10},{"t":"2007-11-14","v":-25},{"t":"2007-11-16","v":-6},{"t":"2007-11-18","v":-42},{"t":"2007-11-20","v":5},{"t":"2007-11-21","v":-6},{"t":"2007-11-22","v":-11},{"t":"2007-11-24","v":-19},{"t":"2007-11-26","v":-1},{"t":"2007-11-28","v":-8},{"t":"2007-11-29","v":-3},{"t":"2007-11-30","v":-28},{"t":"2007-12-02","v":8},{"t":"2007-12-04","v":-13},{"t":"2007-12-06","v":-5},{"t":"2007-12-07","v":-9},{"t":"2007-12-08","v":-22},{"t":"2007-12-10","v":2},{"t":"2007-12-12","v":-9},{"t":"2007-12-14","v":-35},{"t":"2007-12-15","v":-4},{"t":"2007-12-16","v":-15},{"t":"2007-12-18","v":6},{"t":"2007-12-20","v":-7},{"t":"2007-12-22","v":-60},{"t":"2007-12-23","v":-8},{"t":"2007-12-24","v":-12},{"t":"2007-12-26","v":-3},{"t":"2007-12-28","v":-18},{"t":"2007-12-30","v":10},{"t":"2007-12-31","v":-6},{"t":"2008-01-01","v":-10},{"t":"2008-01-03","v":-24},{"t":"2008-01-05","v":-4},{"t":"2008-01-07","v":-15},{"t":"2008-01-08","v":-5},{"t":"2008-01-09","v":-88},{"t":"2008-01-11","v":-8},{"t":"2008-01-13","v":-32},{"t":"2008-01-15","v":1},{"t":"2008-01-16","v":-9},{"t":"2008-01-17","v":-13},{"t":"2008-01-19","v":-20},{"t":"2008-01-21","v":-6},{"t":"2008-01-23","v":-38},{"t":"2008-01-24","v":-7},{"t":"2008-01-25","v":-11},{"t":"2008-01-27","v":3},{"t":"2008-01-29","v":-17},{"t":"2008-01-31","v":-9},{"t":"2008-02-01","v":-4},{"t":"2008-02-02","v":-26},{"t":"2008-02-04","v":-5},{"t":"2008-02-06","v":-14},{"t":"2008-02-08","v":-45},{"t":"2008-02-10","v":-2},{"t":"2008-02-12","v":-21},{"t":"2008-02-14","v":-10},{"t":"2008-02-17","v":-59},{"t":"2008-02-20","v":-16},{"t":"2008-02-23","v":-35},{"t":"2008-02-26","v":-7},{"t":"2008-03-01","v":-12},
      {"t":"2008-09-28","v":-10},{"t":"2008-09-30","v":4},{"t":"2008-10-02","v":-18},{"t":"2008-10-04","v":-5},{"t":"2008-10-05","v":-4},{"t":"2008-10-06","v":-35},{"t":"2008-10-08","v":2},{"t":"2008-10-10","v":-12},{"t":"2008-10-12","v":-53},{"t":"2008-10-13","v":-7},{"t":"2008-10-14","v":-8},{"t":"2008-10-16","v":6},{"t":"2008-10-18","v":-60},{"t":"2008-10-20","v":-15},{"t":"2008-10-21","v":-3},{"t":"2008-10-22","v":-2},{"t":"2008-10-24","v":-22},{"t":"2008-10-26","v":-71},{"t":"2008-10-28","v":8},{"t":"2008-10-29","v":-9},{"t":"2008-10-30","v":-6},{"t":"2008-11-01","v":-13},{"t":"2008-11-03","v":-81},{"t":"2008-11-05","v":3},{"t":"2008-11-06","v":-5},{"t":"2008-11-07","v":-9},{"t":"2008-11-09","v":-1},{"t":"2008-11-11","v":-17},{"t":"2008-11-13","v":10},{"t":"2008-11-14","v":-2},{"t":"2008-11-15","v":-4},{"t":"2008-11-17","v":-28},{"t":"2008-11-19","v":5},{"t":"2008-11-21","v":-11},{"t":"2008-11-22","v":-8},{"t":"2008-11-23","v":-3},{"t":"2008-11-25","v":-20},{"t":"2008-11-27","v":12},{"t":"2008-11-29","v":-7},{"t":"2008-11-30","v":-4},{"t":"2008-12-01","v":-14},{"t":"2008-12-03","v":0},{"t":"2008-12-05","v":-64},{"t":"2008-12-07","v":-9},{"t":"2008-12-08","v":-6},{"t":"2008-12-09","v":7},{"t":"2008-12-11","v":-18},{"t":"2008-12-13","v":-2},{"t":"2008-12-15","v":-33},{"t":"2008-12-16","v":-3},{"t":"2008-12-17","v":-6},{"t":"2008-12-19","v":9},{"t":"2008-12-21","v":-12},{"t":"2008-12-23","v":-1},{"t":"2008-12-24","v":-7},{"t":"2008-12-25","v":-24},{"t":"2008-12-27","v":4},{"t":"2008-12-29","v":-8},{"t":"2008-12-31","v":-16},{"t":"2009-01-01","v":-5},{"t":"2009-01-02","v":-3},{"t":"2009-01-04","v":-27},{"t":"2009-01-06","v":-10},{"t":"2009-01-08","v":-38},{"t":"2009-01-09","v":-9},{"t":"2009-01-10","v":2},{"t":"2009-01-12","v":-15},{"t":"2009-01-14","v":-44},{"t":"2009-01-16","v":-7},{"t":"2009-01-17","v":-4},{"t":"2009-01-18","v":-20},{"t":"2009-01-20","v":-30},{"t":"2009-01-22","v":-12},{"t":"2009-01-24","v":-67},{"t":"2009-01-26","v":-25},{"t":"2009-01-28","v":-35},{"t":"2009-01-30","v":-81},{"t":"2009-02-01","v":-18},{"t":"2009-02-03","v":-92},{"t":"2009-02-05","v":-40},{"t":"2009-02-07","v":-28},{"t":"2009-02-09","v":-78},{"t":"2009-02-11","v":-14},{"t":"2009-02-13","v":-50},{"t":"2009-02-16","v":-33},{"t":"2009-02-19","v":-62},{"t":"2009-02-22","v":-20},{"t":"2009-02-26","v":-45},{"t":"2009-03-02","v":-10},{"t":"2009-03-08","v":-26},
      {"t":"2009-09-27","v":-5},{"t":"2009-09-29","v":6},{"t":"2009-10-01","v":-14},{"t":"2009-10-03","v":-2},{"t":"2009-10-04","v":-6},{"t":"2009-10-05","v":-25},{"t":"2009-10-07","v":8},{"t":"2009-10-09","v":-9},{"t":"2009-10-11","v":-1},{"t":"2009-10-12","v":-4},{"t":"2009-10-13","v":-18},{"t":"2009-10-15","v":3},{"t":"2009-10-17","v":-12},{"t":"2009-10-19","v":-57},{"t":"2009-10-20","v":-8},{"t":"2009-10-21","v":-6},{"t":"2009-10-23","v":10},{"t":"2009-10-25","v":-15},{"t":"2009-10-27","v":-4},{"t":"2009-10-28","v":-5},{"t":"2009-10-29","v":-30},{"t":"2009-10-31","v":2},{"t":"2009-11-02","v":-10},{"t":"2009-11-04","v":-20},{"t":"2009-11-05","v":-9},{"t":"2009-11-06","v":5},{"t":"2009-11-08","v":-7},{"t":"2009-11-10","v":-13},{"t":"2009-11-12","v":-40},{"t":"2009-11-13","v":-3},{"t":"2009-11-14","v":0},{"t":"2009-11-16","v":-16},{"t":"2009-11-18","v":-8},{"t":"2009-11-20","v":7},{"t":"2009-11-21","v":-7},{"t":"2009-11-22","v":-22},{"t":"2009-11-24","v":-3},{"t":"2009-11-26","v":-11},{"t":"2009-11-28","v":-52},{"t":"2009-11-29","v":-5},{"t":"2009-11-30","v":-6},{"t":"2009-12-02","v":4},{"t":"2009-12-04","v":-17},{"t":"2009-12-06","v":-9},{"t":"2009-12-07","v":-8},{"t":"2009-12-08","v":-28},{"t":"2009-12-10","v":1},{"t":"2009-12-12","v":-12},{"t":"2009-12-14","v":-4},{"t":"2009-12-15","v":-6},{"t":"2009-12-16","v":-35},{"t":"2009-12-18","v":9},{"t":"2009-12-20","v":-14},{"t":"2009-12-22","v":-60},{"t":"2009-12-23","v":-3},{"t":"2009-12-24","v":-7},{"t":"2009-12-26","v":-19},{"t":"2009-12-28","v":-2},{"t":"2009-12-30","v":-45},{"t":"2009-12-31","v":-9},{"t":"2010-01-01","v":-11},{"t":"2010-01-03","v":-24},{"t":"2010-01-05","v":3},{"t":"2010-01-07","v":-15},{"t":"2010-01-08","v":-4},{"t":"2010-01-09","v":-55},{"t":"2010-01-11","v":-8},{"t":"2010-01-13","v":-20},{"t":"2010-01-15","v":-38},{"t":"2010-01-16","v":-10},{"t":"2010-01-17","v":-5},{"t":"2010-01-19","v":-27},{"t":"2010-01-21","v":-13},{"t":"2010-01-23","v":-50},{"t":"2010-01-25","v":-17},{"t":"2010-01-27","v":-2},{"t":"2010-01-29","v":-32},{"t":"2010-02-01","v":-10},{"t":"2010-02-04","v":-23},{"t":"2010-02-07","v":-44},{"t":"2010-02-10","v":-14},{"t":"2010-02-13","v":-8},{"t":"2010-02-16","v":-36},{"t":"2010-02-19","v":-19},{"t":"2010-02-23","v":-28},
      {"t":"2010-09-27","v":4},{"t":"2010-09-29","v":-6},{"t":"2010-10-01","v":10},{"t":"2010-10-03","v":-2},{"t":"2010-10-04","v":-3},{"t":"2010-10-05","v":-14},{"t":"2010-10-07","v":6},{"t":"2010-10-09","v":-1},{"t":"2010-10-11","v":-9},{"t":"2010-10-12","v":2},{"t":"2010-10-13","v":8},{"t":"2010-10-15","v":-4},{"t":"2010-10-17","v":-20},{"t":"2010-10-19","v":3},{"t":"2010-10-20","v":-5},{"t":"2010-10-21","v":-7},{"t":"2010-10-23","v":12},{"t":"2010-10-25","v":-3},{"t":"2010-10-27","v":-12},{"t":"2010-10-28","v":0},{"t":"2010-10-29","v":5},{"t":"2010-10-31","v":-1},{"t":"2010-11-02","v":-10},{"t":"2010-11-04","v":7},{"t":"2010-11-05","v":-4},{"t":"2010-11-06","v":-5},{"t":"2010-11-08","v":-16},{"t":"2010-11-10","v":2},{"t":"2010-11-12","v":-8},{"t":"2010-11-13","v":-1},{"t":"2010-11-14","v":-25},{"t":"2010-11-16","v":4},{"t":"2010-11-18","v":-3},{"t":"2010-11-20","v":-13},{"t":"2010-11-21","v":-7},{"t":"2010-11-22","v":9},{"t":"2010-11-24","v":-6},{"t":"2010-11-26","v":-35},{"t":"2010-11-28","v":-11},{"t":"2010-11-29","v":-5},{"t":"2010-11-30","v":-2},{"t":"2010-12-02","v":-18},{"t":"2010-12-04","v":-8},{"t":"2010-12-06","v":-42},{"t":"2010-12-07","v":-12},{"t":"2010-12-08","v":-4},{"t":"2010-12-10","v":-22},{"t":"2010-12-12","v":-92},{"t":"2010-12-14","v":-12},{"t":"2010-12-15","v":-9},{"t":"2010-12-16","v":-30},{"t":"2010-12-18","v":-6},{"t":"2010-12-20","v":-74},{"t":"2010-12-22","v":-16},{"t":"2010-12-23","v":-14},{"t":"2010-12-24","v":-26},{"t":"2010-12-26","v":-88},{"t":"2010-12-28","v":-10},{"t":"2010-12-30","v":-36},{"t":"2010-12-31","v":-17},{"t":"2011-01-01","v":-20},{"t":"2011-01-03","v":-64},{"t":"2011-01-05","v":-14},{"t":"2011-01-07","v":-95},{"t":"2011-01-08","v":-21},{"t":"2011-01-09","v":-28},{"t":"2011-01-11","v":-45},{"t":"2011-01-13","v":-18},{"t":"2011-01-15","v":-85},{"t":"2011-01-16","v":-16},{"t":"2011-01-17","v":-32},{"t":"2011-01-19","v":-53},{"t":"2011-01-21","v":-22},{"t":"2011-01-23","v":-90},{"t":"2011-01-25","v":-38},{"t":"2011-01-27","v":-15},{"t":"2011-01-29","v":-66},{"t":"2011-01-31","v":-27},{"t":"2011-02-02","v":-44},{"t":"2011-02-04","v":-20},{"t":"2011-02-06","v":-58},{"t":"2011-02-08","v":-30},{"t":"2011-02-10","v":-12},{"t":"2011-02-13","v":-40},{"t":"2011-02-16","v":-25},{"t":"2011-02-19","v":-50},{"t":"2011-02-22","v":-18},{"t":"2011-02-25","v":-34},{"t":"2011-03-01","v":-8},{"t":"2011-03-05","v":-22},
      {"t":"2011-09-27","v":-4},{"t":"2011-09-29","v":6},{"t":"2011-10-01","v":-10},{"t":"2011-10-03","v":2},{"t":"2011-10-05","v":-14},{"t":"2011-10-07","v":-6},{"t":"2011-10-09","v":8},{"t":"2011-10-11","v":-2},{"t":"2011-10-13","v":-12},{"t":"2011-10-15","v":4},{"t":"2011-10-17","v":-8},{"t":"2011-10-19","v":-26},{"t":"2011-10-21","v":0},{"t":"2011-10-23","v":-5},{"t":"2011-10-25","v":10},{"t":"2011-10-27","v":-11},{"t":"2011-10-29","v":-3},{"t":"2011-10-31","v":5},{"t":"2011-11-02","v":-7},{"t":"2011-11-04","v":-16},{"t":"2011-11-06","v":1},{"t":"2011-11-08","v":-4},{"t":"2011-11-10","v":7},{"t":"2011-11-12","v":-9},{"t":"2011-11-14","v":-20},{"t":"2011-11-16","v":3},{"t":"2011-11-18","v":-6},{"t":"2011-11-20","v":-1},{"t":"2011-11-22","v":-13},{"t":"2011-11-24","v":6},{"t":"2011-11-26","v":-3},{"t":"2011-11-28","v":-8},{"t":"2011-11-30","v":2}
    ],
    "mon4": [
      {"t":"2007-01-01","v":-7,"g":1},{"t":"2007-02-01","v":-10,"g":1},{"t":"2007-03-01","v":-10,"g":1},
      {"t":"2007-10-01","v":-8,"g":2},{"t":"2007-11-01","v":-8,"g":2},{"t":"2007-12-01","v":-7,"g":2},{"t":"2008-01-01","v":-8,"g":2},{"t":"2008-02-01","v":-8,"g":2},{"t":"2008-03-01","v":-8,"g":2},
      {"t":"2008-10-01","v":-12,"g":3},{"t":"2008-11-01","v":-5,"g":3},{"t":"2008-12-01","v":-5,"g":3},{"t":"2009-01-01","v":-5,"g":3},{"t":"2009-02-01","v":-17,"g":3},{"t":"2009-03-01","v":-17,"g":3},
      {"t":"2009-10-01","v":-6,"g":4},{"t":"2009-11-01","v":-6,"g":4},{"t":"2009-12-01","v":-6,"g":4},{"t":"2010-01-01","v":-8,"g":4},{"t":"2010-02-01","v":-13,"g":4},{"t":"2010-02-25","v":-13,"g":4},
      {"t":"2010-10-01","v":-2,"g":5},{"t":"2010-11-01","v":-2,"g":5},{"t":"2010-12-01","v":-12,"g":5},{"t":"2011-01-01","v":-19,"g":5},{"t":"2011-02-01","v":-27,"g":5},{"t":"2011-03-01","v":-27,"g":5},
      {"t":"2011-10-01","v":-5,"g":6},{"t":"2011-11-01","v":-5,"g":6},{"t":"2011-12-01","v":-5,"g":6}
    ],
    "pen4": [
      {"t":"2007-01-01","v":-8,"g":1},{"t":"2007-01-06","v":-5,"g":1},{"t":"2007-01-11","v":-9,"g":1},{"t":"2007-01-16","v":-6,"g":1},{"t":"2007-01-21","v":-10,"g":1},{"t":"2007-01-26","v":-7,"g":1},{"t":"2007-01-31","v":-9,"g":1},{"t":"2007-02-05","v":-12,"g":1},{"t":"2007-02-10","v":-24,"g":1},{"t":"2007-02-15","v":-24,"g":1},
      {"t":"2007-10-01","v":-9,"g":2},{"t":"2007-10-06","v":-5,"g":2},{"t":"2007-10-11","v":-8,"g":2},{"t":"2007-10-16","v":-7,"g":2},{"t":"2007-10-21","v":-4,"g":2},{"t":"2007-10-26","v":-9,"g":2},{"t":"2007-10-31","v":-6,"g":2},{"t":"2007-11-05","v":-26,"g":2},{"t":"2007-11-10","v":-3,"g":2},{"t":"2007-11-15","v":-8,"g":2},{"t":"2007-11-20","v":-5,"g":2},{"t":"2007-11-25","v":-10,"g":2},{"t":"2007-11-30","v":-6,"g":2},{"t":"2007-12-05","v":-9,"g":2},{"t":"2007-12-10","v":-4,"g":2},{"t":"2007-12-15","v":-18,"g":2},{"t":"2007-12-20","v":-7,"g":2},{"t":"2007-12-25","v":-5,"g":2},{"t":"2007-12-30","v":-8,"g":2},{"t":"2008-01-04","v":-6,"g":2},{"t":"2008-01-09","v":-10,"g":2},{"t":"2008-01-14","v":-7,"g":2},{"t":"2008-01-19","v":-9,"g":2},{"t":"2008-01-24","v":-4,"g":2},{"t":"2008-01-29","v":-8,"g":2},{"t":"2008-02-03","v":-5,"g":2},{"t":"2008-02-08","v":-20,"g":2},{"t":"2008-02-13","v":-6,"g":2},{"t":"2008-02-18","v":-8,"g":2},{"t":"2008-02-23","v":-8,"g":2},
      {"t":"2008-10-05","v":-6,"g":3},{"t":"2008-10-10","v":-4,"g":3},{"t":"2008-10-15","v":-8,"g":3},{"t":"2008-10-20","v":-3,"g":3},{"t":"2008-10-25","v":-6,"g":3},{"t":"2008-10-30","v":-2,"g":3},{"t":"2008-11-04","v":-5,"g":3},{"t":"2008-11-09","v":-3,"g":3},{"t":"2008-11-14","v":-7,"g":3},{"t":"2008-11-19","v":-4,"g":3},{"t":"2008-11-24","v":-8,"g":3},{"t":"2008-11-29","v":-5,"g":3},{"t":"2008-12-04","v":-3,"g":3},{"t":"2008-12-09","v":-6,"g":3},{"t":"2008-12-14","v":-9,"g":3},{"t":"2008-12-19","v":-5,"g":3},{"t":"2008-12-24","v":-8,"g":3},{"t":"2008-12-29","v":-6,"g":3},{"t":"2009-01-03","v":-9,"g":3},{"t":"2009-01-08","v":-7,"g":3},{"t":"2009-01-13","v":-11,"g":3},{"t":"2009-01-18","v":-8,"g":3},{"t":"2009-01-23","v":-12,"g":3},{"t":"2009-01-28","v":-15,"g":3},{"t":"2009-02-02","v":-22,"g":3},{"t":"2009-02-07","v":-43,"g":3},{"t":"2009-02-12","v":-30,"g":3},{"t":"2009-02-17","v":-30,"g":3},
      {"t":"2009-10-01","v":-5,"g":4},{"t":"2009-10-06","v":-9,"g":4},{"t":"2009-10-11","v":-4,"g":4},{"t":"2009-10-16","v":-15,"g":4},{"t":"2009-10-21","v":-6,"g":4},{"t":"2009-10-26","v":-3,"g":4},{"t":"2009-10-31","v":-8,"g":4},{"t":"2009-11-05","v":-5,"g":4},{"t":"2009-11-10","v":-10,"g":4},{"t":"2009-11-15","v":-4,"g":4},{"t":"2009-11-20","v":-7,"g":4},{"t":"2009-11-25","v":-16,"g":4},{"t":"2009-11-30","v":-6,"g":4},{"t":"2009-12-05","v":-3,"g":4},{"t":"2009-12-10","v":-8,"g":4},{"t":"2009-12-15","v":-5,"g":4},{"t":"2009-12-20","v":-9,"g":4},{"t":"2009-12-25","v":-15,"g":4},{"t":"2009-12-30","v":-6,"g":4},{"t":"2010-01-04","v":-8,"g":4},{"t":"2010-01-09","v":-11,"g":4},{"t":"2010-01-14","v":-7,"g":4},{"t":"2010-01-19","v":-12,"g":4},{"t":"2010-01-24","v":-9,"g":4},{"t":"2010-01-29","v":-16,"g":4},{"t":"2010-02-03","v":-11,"g":4},{"t":"2010-02-08","v":-14,"g":4},{"t":"2010-02-13","v":-12,"g":4},{"t":"2010-02-18","v":-12,"g":4},
      {"t":"2010-10-01","v":-1,"g":5},{"t":"2010-10-06","v":-4,"g":5},{"t":"2010-10-11","v":2,"g":5},{"t":"2010-10-16","v":-3,"g":5},{"t":"2010-10-21","v":-6,"g":5},{"t":"2010-10-26","v":0,"g":5},{"t":"2010-10-31","v":-4,"g":5},{"t":"2010-11-05","v":-2,"g":5},{"t":"2010-11-10","v":-5,"g":5},{"t":"2010-11-15","v":-1,"g":5},{"t":"2010-11-20","v":-6,"g":5},{"t":"2010-11-25","v":-3,"g":5},{"t":"2010-11-30","v":-8,"g":5},{"t":"2010-12-05","v":-25,"g":5},{"t":"2010-12-10","v":-9,"g":5},{"t":"2010-12-15","v":-14,"g":5},{"t":"2010-12-20","v":-11,"g":5},{"t":"2010-12-25","v":-18,"g":5},{"t":"2010-12-30","v":-15,"g":5},{"t":"2011-01-04","v":-20,"g":5},{"t":"2011-01-09","v":-18,"g":5},{"t":"2011-01-14","v":-22,"g":5},{"t":"2011-01-19","v":-20,"g":5},{"t":"2011-01-24","v":-25,"g":5},{"t":"2011-01-29","v":-23,"g":5},{"t":"2011-02-03","v":-29,"g":5},{"t":"2011-02-08","v":-28,"g":5},{"t":"2011-02-13","v":-30,"g":5},{"t":"2011-02-18","v":-5,"g":5},{"t":"2011-02-23","v":-5,"g":5},
      {"t":"2011-10-01","v":-6,"g":6},{"t":"2011-10-06","v":-3,"g":6},{"t":"2011-10-11","v":-5,"g":6},{"t":"2011-10-16","v":-2,"g":6},{"t":"2011-10-21","v":-7,"g":6},{"t":"2011-10-26","v":-4,"g":6},{"t":"2011-10-31","v":-1,"g":6},{"t":"2011-11-05","v":-5,"g":6},{"t":"2011-11-10","v":-3,"g":6},{"t":"2011-11-15","v":-6,"g":6},{"t":"2011-11-20","v":-2,"g":6},{"t":"2011-11-25","v":-4,"g":6},{"t":"2011-11-30","v":-4,"g":6}
    ],
    "pts5": [
      {"t":"2012-01-01","v":-5},{"t":"2012-01-02","v":8},{"t":"2012-01-04","v":-12},{"t":"2012-01-06","v":2},{"t":"2012-01-08","v":-20},{"t":"2012-01-10","v":-3},{"t":"2012-01-12","v":10},{"t":"2012-01-14","v":-48},{"t":"2012-01-16","v":-9},{"t":"2012-01-18","v":-38},{"t":"2012-01-20","v":4},{"t":"2012-01-22","v":-15},{"t":"2012-01-24","v":-1},{"t":"2012-01-26","v":-8},{"t":"2012-01-28","v":12},{"t":"2012-01-30","v":-18},{"t":"2012-02-01","v":-4},{"t":"2012-02-03","v":6},{"t":"2012-02-05","v":-11},{"t":"2012-02-07","v":-2},{"t":"2012-02-09","v":-25},{"t":"2012-02-11","v":3},{"t":"2012-02-13","v":-7},{"t":"2012-02-15","v":-14},{"t":"2012-02-17","v":9},{"t":"2012-02-19","v":-5},{"t":"2012-02-21","v":-27},{"t":"2012-02-23","v":-1},{"t":"2012-02-25","v":-10},{"t":"2012-02-27","v":5},{"t":"2012-03-01","v":-16},{"t":"2012-03-04","v":-3},
      {"t":"2012-09-28","v":-4},{"t":"2012-09-30","v":-14},{"t":"2012-10-02","v":6},{"t":"2012-10-03","v":-6},{"t":"2012-10-04","v":-8},{"t":"2012-10-06","v":-1},{"t":"2012-10-08","v":-20},{"t":"2012-10-10","v":9},{"t":"2012-10-11","v":-3},{"t":"2012-10-12","v":-5},{"t":"2012-10-14","v":-12},{"t":"2012-10-16","v":2},{"t":"2012-10-18","v":-28},{"t":"2012-10-19","v":-9},{"t":"2012-10-20","v":-7},{"t":"2012-10-22","v":12},{"t":"2012-10-24","v":-3},{"t":"2012-10-26","v":-16},{"t":"2012-10-27","v":-5},{"t":"2012-10-28","v":-47},{"t":"2012-10-30","v":5},{"t":"2012-11-01","v":-10},{"t":"2012-11-03","v":-22},{"t":"2012-11-04","v":-8},{"t":"2012-11-05","v":-2},{"t":"2012-11-07","v":8},{"t":"2012-11-09","v":-13},{"t":"2012-11-11","v":-6},{"t":"2012-11-12","v":-4},{"t":"2012-11-13","v":-35},{"t":"2012-11-15","v":3},{"t":"2012-11-17","v":-18},{"t":"2012-11-19","v":-9},{"t":"2012-11-20","v":-11},{"t":"2012-11-21","v":11},{"t":"2012-11-23","v":-4},{"t":"2012-11-25","v":-25},{"t":"2012-11-27","v":0},{"t":"2012-11-28","v":-6},{"t":"2012-11-29","v":-12},{"t":"2012-12-01","v":-7},{"t":"2012-12-03","v":10},{"t":"2012-12-05","v":-30},{"t":"2012-12-06","v":-9},{"t":"2012-12-07","v":-3},{"t":"2012-12-09","v":-15},{"t":"2012-12-11","v":5},{"t":"2012-12-13","v":-9},{"t":"2012-12-14","v":-5},{"t":"2012-12-15","v":-40},{"t":"2012-12-17","v":-1},{"t":"2012-12-19","v":-19},{"t":"2012-12-21","v":13},{"t":"2012-12-22","v":-2},{"t":"2012-12-23","v":-6},{"t":"2012-12-25","v":-11},{"t":"2012-12-27","v":-24},{"t":"2012-12-29","v":4},{"t":"2012-12-30","v":-7},{"t":"2012-12-31","v":-8},{"t":"2013-01-02","v":15},{"t":"2013-01-04","v":-2},{"t":"2013-01-06","v":-14},{"t":"2013-01-07","v":-4},{"t":"2013-01-08","v":7},{"t":"2013-01-10","v":-5},{"t":"2013-01-12","v":-26},{"t":"2013-01-14","v":2},{"t":"2013-01-15","v":-7},{"t":"2013-01-16","v":-10},{"t":"2013-01-18","v":11},{"t":"2013-01-20","v":-18},{"t":"2013-01-22","v":-3},{"t":"2013-01-23","v":0},{"t":"2013-01-24","v":-38},{"t":"2013-01-26","v":6},{"t":"2013-01-28","v":-12},{"t":"2013-01-30","v":-1},{"t":"2013-01-31","v":-6},{"t":"2013-02-01","v":-20},{"t":"2013-02-03","v":-8},{"t":"2013-02-05","v":-51},{"t":"2013-02-07","v":4},{"t":"2013-02-08","v":-9},{"t":"2013-02-09","v":-15},{"t":"2013-02-11","v":-5},{"t":"2013-02-13","v":-28},{"t":"2013-02-15","v":9},{"t":"2013-02-16","v":-4},{"t":"2013-02-17","v":-11},{"t":"2013-02-19","v":-2},{"t":"2013-02-22","v":-17},{"t":"2013-02-25","v":3},{"t":"2013-02-28","v":-9},{"t":"2013-03-03","v":-22},
      {"t":"2013-09-28","v":-3},{"t":"2013-09-30","v":7},{"t":"2013-10-02","v":-12},{"t":"2013-10-03","v":-8},{"t":"2013-10-04","v":-5},{"t":"2013-10-06","v":-22},{"t":"2013-10-08","v":4},{"t":"2013-10-10","v":-9},{"t":"2013-10-11","v":-4},{"t":"2013-10-12","v":-30},{"t":"2013-10-14","v":-1},{"t":"2013-10-16","v":-15},{"t":"2013-10-18","v":9},{"t":"2013-10-19","v":-10},{"t":"2013-10-20","v":-7},{"t":"2013-10-22","v":-35},{"t":"2013-10-24","v":-11},{"t":"2013-10-26","v":2},{"t":"2013-10-27","v":-6},{"t":"2013-10-28","v":-18},{"t":"2013-10-30","v":-48},{"t":"2013-11-01","v":-6},{"t":"2013-11-03","v":-25},{"t":"2013-11-04","v":-9},{"t":"2013-11-05","v":11},{"t":"2013-11-07","v":-13},{"t":"2013-11-08","v":-2},{"t":"2013-11-09","v":-58},{"t":"2013-11-11","v":-3},{"t":"2013-11-12","v":-5},{"t":"2013-11-13","v":-20},{"t":"2013-11-15","v":-42},{"t":"2013-11-17","v":-8},{"t":"2013-11-19","v":5},{"t":"2013-11-20","v":-12},{"t":"2013-11-21","v":-16},{"t":"2013-11-23","v":-33},{"t":"2013-11-25","v":-10},{"t":"2013-11-27","v":-2},{"t":"2013-11-28","v":-7},{"t":"2013-11-29","v":-27},{"t":"2013-12-01","v":-14},{"t":"2013-12-03","v":8},{"t":"2013-12-05","v":-38},{"t":"2013-12-06","v":-10},{"t":"2013-12-07","v":-6},{"t":"2013-12-09","v":-19},{"t":"2013-12-11","v":-45},{"t":"2013-12-13","v":-11},{"t":"2013-12-14","v":-8},{"t":"2013-12-15","v":3},{"t":"2013-12-17","v":-24},{"t":"2013-12-18","v":0},{"t":"2013-12-19","v":-9},{"t":"2013-12-21","v":-31},{"t":"2013-12-22","v":-5},{"t":"2013-12-23","v":-15},{"t":"2013-12-25","v":12},{"t":"2013-12-27","v":-4},{"t":"2013-12-29","v":-21},{"t":"2013-12-30","v":-11},{"t":"2013-12-31","v":-12},{"t":"2014-01-02","v":-36},{"t":"2014-01-04","v":-7},{"t":"2014-01-06","v":-55},{"t":"2014-01-07","v":-9},{"t":"2014-01-08","v":-17},{"t":"2014-01-10","v":6},{"t":"2014-01-12","v":-28},{"t":"2014-01-13","v":3},{"t":"2014-01-14","v":-10},{"t":"2014-01-15","v":-6},{"t":"2014-01-16","v":-50},{"t":"2014-01-18","v":-3},{"t":"2014-01-20","v":-22},{"t":"2014-01-22","v":-13},{"t":"2014-01-23","v":-12},{"t":"2014-01-24","v":-40},{"t":"2014-01-26","v":-6},{"t":"2014-01-28","v":-18},{"t":"2014-01-30","v":10},{"t":"2014-01-31","v":-8},{"t":"2014-02-01","v":-26},{"t":"2014-02-03","v":-9},{"t":"2014-02-05","v":-34},{"t":"2014-02-07","v":-15},{"t":"2014-02-08","v":-5},{"t":"2014-02-09","v":-90},{"t":"2014-02-11","v":-4},{"t":"2014-02-13","v":-20},{"t":"2014-02-16","v":-11},{"t":"2014-02-19","v":2},{"t":"2014-02-22","v":-16},{"t":"2014-02-25","v":-7},{"t":"2014-03-01","v":-12},{"t":"2014-03-05","v":0},{"t":"2014-03-09","v":-8},
      {"t":"2014-09-27","v":-2},{"t":"2014-09-29","v":8},{"t":"2014-10-01","v":-10},{"t":"2014-10-03","v":3},{"t":"2014-10-05","v":-6},{"t":"2014-10-07","v":-18},{"t":"2014-10-09","v":10},{"t":"2014-10-11","v":-1},{"t":"2014-10-13","v":-12},{"t":"2014-10-15","v":5},{"t":"2014-10-17","v":-4},{"t":"2014-10-19","v":-25},{"t":"2014-10-21","v":6},{"t":"2014-10-23","v":-8},{"t":"2014-10-25","v":0},{"t":"2014-10-27","v":-15},{"t":"2014-10-29","v":11},{"t":"2014-10-31","v":-5},{"t":"2014-11-02","v":-20},{"t":"2014-11-04","v":-3},{"t":"2014-11-06","v":-11},{"t":"2014-11-08","v":4},{"t":"2014-11-10","v":-34},{"t":"2014-11-12","v":-7},{"t":"2014-11-14","v":-48},{"t":"2014-11-16","v":-14},{"t":"2014-11-18","v":2},{"t":"2014-11-20","v":-9},{"t":"2014-11-22","v":-28},{"t":"2014-11-24","v":-4},{"t":"2014-11-26","v":-16},{"t":"2014-11-28","v":7},{"t":"2014-11-30","v":-10},{"t":"2014-12-03","v":-2},{"t":"2014-12-06","v":-22},{"t":"2014-12-09","v":-6},{"t":"2014-12-12","v":5},{"t":"2014-12-15","v":-13},{"t":"2014-12-19","v":-3},{"t":"2014-12-23","v":-18},{"t":"2014-12-28","v":-8}
    ],
    "mon5": [
      {"t":"2012-01-01","v":-8,"g":1},{"t":"2012-02-01","v":-8,"g":1},{"t":"2012-03-01","v":-8,"g":1},
      {"t":"2012-10-01","v":-3,"g":2},{"t":"2012-11-01","v":-7,"g":2},{"t":"2012-12-01","v":-6,"g":2},{"t":"2013-01-01","v":1,"g":2},{"t":"2013-02-01","v":-6,"g":2},{"t":"2013-03-01","v":-6,"g":2},
      {"t":"2013-10-01","v":-5,"g":3},{"t":"2013-11-01","v":-10,"g":3},{"t":"2013-12-01","v":-10,"g":3},{"t":"2014-01-01","v":-10,"g":3},{"t":"2014-02-01","v":-10,"g":3},{"t":"2014-03-01","v":-10,"g":3},
      {"t":"2014-10-01","v":-3,"g":4},{"t":"2014-11-01","v":-8,"g":4},{"t":"2014-12-01","v":-8,"g":4}
    ],
    "pen5": [
      {"t":"2012-01-01","v":-10,"g":1},{"t":"2012-01-06","v":-6,"g":1},{"t":"2012-01-11","v":-9,"g":1},{"t":"2012-01-16","v":-12,"g":1},{"t":"2012-01-21","v":-4,"g":1},{"t":"2012-01-26","v":-7,"g":1},{"t":"2012-01-31","v":-10,"g":1},{"t":"2012-02-05","v":-6,"g":1},{"t":"2012-02-10","v":-9,"g":1},{"t":"2012-02-15","v":-5,"g":1},{"t":"2012-02-20","v":-8,"g":1},{"t":"2012-02-25","v":-8,"g":1},
      {"t":"2012-10-01","v":-5,"g":2},{"t":"2012-10-06","v":-3,"g":2},{"t":"2012-10-11","v":-8,"g":2},{"t":"2012-10-16","v":-6,"g":2},{"t":"2012-10-21","v":-4,"g":2},{"t":"2012-10-26","v":-9,"g":2},{"t":"2012-10-31","v":-7,"g":2},{"t":"2012-11-05","v":-23,"g":2},{"t":"2012-11-10","v":-12,"g":2},{"t":"2012-11-15","v":-8,"g":2},{"t":"2012-11-20","v":-6,"g":2},{"t":"2012-11-25","v":-10,"g":2},{"t":"2012-11-30","v":-5,"g":2},{"t":"2012-12-05","v":-7,"g":2},{"t":"2012-12-10","v":-13,"g":2},{"t":"2012-12-15","v":-6,"g":2},{"t":"2012-12-20","v":-4,"g":2},{"t":"2012-12-25","v":-9,"g":2},{"t":"2012-12-30","v":-3,"g":2},{"t":"2013-01-04","v":2,"g":2},{"t":"2013-01-09","v":-1,"g":2},{"t":"2013-01-14","v":4,"g":2},{"t":"2013-01-19","v":-2,"g":2},{"t":"2013-01-24","v":-8,"g":2},{"t":"2013-01-29","v":-15,"g":2},{"t":"2013-02-03","v":-6,"g":2},{"t":"2013-02-08","v":-3,"g":2},{"t":"2013-02-13","v":-8,"g":2},{"t":"2013-02-18","v":4,"g":2},{"t":"2013-02-23","v":4,"g":2},
      {"t":"2013-10-05","v":-6,"g":3},{"t":"2013-10-10","v":-8,"g":3},{"t":"2013-10-15","v":-5,"g":3},{"t":"2013-10-20","v":-9,"g":3},{"t":"2013-10-25","v":-11,"g":3},{"t":"2013-10-30","v":-7,"g":3},{"t":"2013-11-04","v":-12,"g":3},{"t":"2013-11-09","v":-14,"g":3},{"t":"2013-11-14","v":-10,"g":3},{"t":"2013-11-19","v":-13,"g":3},{"t":"2013-11-24","v":-9,"g":3},{"t":"2013-11-29","v":-12,"g":3},{"t":"2013-12-04","v":-10,"g":3},{"t":"2013-12-09","v":-15,"g":3},{"t":"2013-12-14","v":-8,"g":3},{"t":"2013-12-19","v":-11,"g":3},{"t":"2013-12-24","v":-13,"g":3},{"t":"2013-12-29","v":-9,"g":3},{"t":"2014-01-03","v":-12,"g":3},{"t":"2014-01-08","v":-10,"g":3},{"t":"2014-01-13","v":-14,"g":3},{"t":"2014-01-18","v":-8,"g":3},{"t":"2014-01-23","v":-11,"g":3},{"t":"2014-01-28","v":-6,"g":3},{"t":"2014-02-02","v":-9,"g":3},{"t":"2014-02-07","v":-16,"g":3},{"t":"2014-02-12","v":-7,"g":3},{"t":"2014-02-17","v":-3,"g":3},{"t":"2014-02-22","v":1,"g":3},{"t":"2014-02-27","v":1,"g":3},
      {"t":"2014-10-03","v":-5,"g":4},{"t":"2014-10-08","v":-3,"g":4},{"t":"2014-10-13","v":-8,"g":4},{"t":"2014-10-18","v":-6,"g":4},{"t":"2014-10-23","v":-2,"g":4},{"t":"2014-10-28","v":-7,"g":4},{"t":"2014-11-02","v":-9,"g":4},{"t":"2014-11-07","v":-5,"g":4},{"t":"2014-11-12","v":-14,"g":4},{"t":"2014-11-17","v":-10,"g":4},{"t":"2014-11-22","v":-7,"g":4},{"t":"2014-11-27","v":-12,"g":4},{"t":"2014-12-02","v":-6,"g":4},{"t":"2014-12-07","v":-9,"g":4},{"t":"2014-12-12","v":-5,"g":4},{"t":"2014-12-17","v":-5,"g":4}
    ]
  },
  "vconcat": [
    {
      "width": 1043, "height": 95,
      "resolve": {"axis": {"x": "independent", "y": "independent"}},
      "layer": [
        {"data": {"name": "pts1"}, "mark": {"type": "point", "shape": "M-0.12,0A0.12,0.12,0,1,0,0.12,0A0.12,0.12,0,1,0,-0.12,0Z", "size": 484, "filled": false, "strokeWidth": 1.8, "color": "#6a6aff", "opacity": 0.7, "clip": true},
         "encoding": {
           "x": {"field": "t", "type": "temporal", "scale": {"type": "utc", "nice": false, "domain": [{"year":1992,"month":1,"date":1,"utc":true},{"year":1996,"month":12,"date":1,"utc":true}]},
                 "axis": {"title": null, "format": "%m / %Y", "values": [{"year":1992,"month":1,"date":1,"utc":true},{"year":1992,"month":6,"date":29,"utc":true},{"year":1992,"month":12,"date":26,"utc":true},{"year":1993,"month":6,"date":24,"utc":true},{"year":1993,"month":12,"date":21,"utc":true},{"year":1994,"month":6,"date":18,"utc":true},{"year":1994,"month":12,"date":15,"utc":true},{"year":1995,"month":6,"date":13,"utc":true},{"year":1995,"month":12,"date":10,"utc":true},{"year":1996,"month":6,"date":6,"utc":true},{"year":1996,"month":12,"date":1,"utc":true}]}},
           "y": {"field": "v", "type": "quantitative", "scale": {"domain": [-100, 100], "nice": false}, "axis": {"title": null, "values": [-100, 0, 100], "labelExpr": "'' + datum.value"}}
         }},
        {"data": {"name": "ref"}, "transform": [{"filter": "abs(datum.v) > 20"}], "mark": {"type": "rule", "color": "#ff0000", "strokeDash": [1.5, 2.5], "strokeWidth": 1.2, "opacity": 0.65},
         "encoding": {"y": {"field": "v", "type": "quantitative", "scale": {"domain": [-100, 100], "nice": false}, "axis": null}}},
        {"data": {"name": "ref"}, "transform": [{"filter": "abs(datum.v) < 20"}], "mark": {"type": "rule", "color": "#0000ff", "strokeDash": [1.5, 2.5], "strokeWidth": 1.2, "opacity": 0.65},
         "encoding": {"y": {"field": "v", "type": "quantitative", "scale": {"domain": [-100, 100], "nice": false}, "axis": null}}},
        {"data": {"name": "mon1"}, "mark": {"type": "line", "interpolate": "step-after", "color": "#000000", "strokeWidth": 1.6, "clip": true},
         "encoding": {
           "x": {"field": "t", "type": "temporal", "scale": {"type": "utc", "nice": false, "domain": [{"year":1992,"month":1,"date":1,"utc":true},{"year":1996,"month":12,"date":1,"utc":true}]}, "axis": null},
           "y": {"field": "v", "type": "quantitative", "scale": {"domain": [-100, 100], "nice": false}, "axis": null},
           "detail": {"field": "g", "type": "nominal"}
         }},
        {"data": {"name": "pen1"}, "mark": {"type": "line", "interpolate": "step-after", "color": "#ff0000", "strokeWidth": 1.6, "clip": true},
         "encoding": {
           "x": {"field": "t", "type": "temporal", "scale": {"type": "utc", "nice": false, "domain": [{"year":1992,"month":1,"date":1,"utc":true},{"year":1996,"month":12,"date":1,"utc":true}]},
                 "axis": {"orient": "top", "title": null, "labels": false, "values": [{"year":1992,"month":1,"date":1,"utc":true},{"year":1992,"month":6,"date":29,"utc":true},{"year":1992,"month":12,"date":26,"utc":true},{"year":1993,"month":6,"date":24,"utc":true},{"year":1993,"month":12,"date":21,"utc":true},{"year":1994,"month":6,"date":18,"utc":true},{"year":1994,"month":12,"date":15,"utc":true},{"year":1995,"month":6,"date":13,"utc":true},{"year":1995,"month":12,"date":10,"utc":true},{"year":1996,"month":6,"date":6,"utc":true},{"year":1996,"month":12,"date":1,"utc":true}]}},
           "y": {"field": "v", "type": "quantitative", "scale": {"domain": [-100, 100], "nice": false}, "axis": {"orient": "right", "title": null, "labels": false, "values": [-100, 0, 100]}},
           "detail": {"field": "g", "type": "nominal"}
         }}
      ]
    },
    {
      "width": 1043, "height": 95,
      "resolve": {"axis": {"x": "independent", "y": "independent"}},
      "layer": [
        {"data": {"name": "pts2"}, "mark": {"type": "point", "shape": "M-0.12,0A0.12,0.12,0,1,0,0.12,0A0.12,0.12,0,1,0,-0.12,0Z", "size": 484, "filled": false, "strokeWidth": 1.8, "color": "#6a6aff", "opacity": 0.7, "clip": true},
         "encoding": {
           "x": {"field": "t", "type": "temporal", "scale": {"type": "utc", "nice": false, "domain": [{"year":1997,"month":1,"date":1,"utc":true},{"year":2001,"month":12,"date":1,"utc":true}]},
                 "axis": {"title": null, "format": "%m / %Y", "values": [{"year":1997,"month":1,"date":1,"utc":true},{"year":1997,"month":6,"date":29,"utc":true},{"year":1997,"month":12,"date":26,"utc":true},{"year":1998,"month":6,"date":24,"utc":true},{"year":1998,"month":12,"date":21,"utc":true},{"year":1999,"month":6,"date":18,"utc":true},{"year":1999,"month":12,"date":15,"utc":true},{"year":2000,"month":6,"date":13,"utc":true},{"year":2000,"month":12,"date":10,"utc":true},{"year":2001,"month":6,"date":6,"utc":true},{"year":2001,"month":12,"date":1,"utc":true}]}},
           "y": {"field": "v", "type": "quantitative", "scale": {"domain": [-100, 100], "nice": false}, "axis": {"title": null, "values": [-100, 0, 100], "labelExpr": "'' + datum.value"}}
         }},
        {"data": {"name": "ref"}, "transform": [{"filter": "abs(datum.v) > 20"}], "mark": {"type": "rule", "color": "#ff0000", "strokeDash": [1.5, 2.5], "strokeWidth": 1.2, "opacity": 0.65},
         "encoding": {"y": {"field": "v", "type": "quantitative", "scale": {"domain": [-100, 100], "nice": false}, "axis": null}}},
        {"data": {"name": "ref"}, "transform": [{"filter": "abs(datum.v) < 20"}], "mark": {"type": "rule", "color": "#0000ff", "strokeDash": [1.5, 2.5], "strokeWidth": 1.2, "opacity": 0.65},
         "encoding": {"y": {"field": "v", "type": "quantitative", "scale": {"domain": [-100, 100], "nice": false}, "axis": null}}},
        {"data": {"name": "mon2"}, "mark": {"type": "line", "interpolate": "step-after", "color": "#000000", "strokeWidth": 1.6, "clip": true},
         "encoding": {
           "x": {"field": "t", "type": "temporal", "scale": {"type": "utc", "nice": false, "domain": [{"year":1997,"month":1,"date":1,"utc":true},{"year":2001,"month":12,"date":1,"utc":true}]}, "axis": null},
           "y": {"field": "v", "type": "quantitative", "scale": {"domain": [-100, 100], "nice": false}, "axis": null},
           "detail": {"field": "g", "type": "nominal"}
         }},
        {"data": {"name": "pen2"}, "mark": {"type": "line", "interpolate": "step-after", "color": "#ff0000", "strokeWidth": 1.6, "clip": true},
         "encoding": {
           "x": {"field": "t", "type": "temporal", "scale": {"type": "utc", "nice": false, "domain": [{"year":1997,"month":1,"date":1,"utc":true},{"year":2001,"month":12,"date":1,"utc":true}]},
                 "axis": {"orient": "top", "title": null, "labels": false, "values": [{"year":1997,"month":1,"date":1,"utc":true},{"year":1997,"month":6,"date":29,"utc":true},{"year":1997,"month":12,"date":26,"utc":true},{"year":1998,"month":6,"date":24,"utc":true},{"year":1998,"month":12,"date":21,"utc":true},{"year":1999,"month":6,"date":18,"utc":true},{"year":1999,"month":12,"date":15,"utc":true},{"year":2000,"month":6,"date":13,"utc":true},{"year":2000,"month":12,"date":10,"utc":true},{"year":2001,"month":6,"date":6,"utc":true},{"year":2001,"month":12,"date":1,"utc":true}]}},
           "y": {"field": "v", "type": "quantitative", "scale": {"domain": [-100, 100], "nice": false}, "axis": {"orient": "right", "title": null, "labels": false, "values": [-100, 0, 100]}},
           "detail": {"field": "g", "type": "nominal"}
         }}
      ]
    },
    {
      "width": 1043, "height": 95,
      "resolve": {"axis": {"x": "independent", "y": "independent"}},
      "layer": [
        {"data": {"name": "pts3"}, "mark": {"type": "point", "shape": "M-0.12,0A0.12,0.12,0,1,0,0.12,0A0.12,0.12,0,1,0,-0.12,0Z", "size": 484, "filled": false, "strokeWidth": 1.8, "color": "#6a6aff", "opacity": 0.7, "clip": true},
         "encoding": {
           "x": {"field": "t", "type": "temporal", "scale": {"type": "utc", "nice": false, "domain": [{"year":2002,"month":1,"date":1,"utc":true},{"year":2006,"month":12,"date":1,"utc":true}]},
                 "axis": {"title": null, "format": "%m / %Y", "values": [{"year":2002,"month":1,"date":1,"utc":true},{"year":2002,"month":6,"date":29,"utc":true},{"year":2002,"month":12,"date":26,"utc":true},{"year":2003,"month":6,"date":24,"utc":true},{"year":2003,"month":12,"date":21,"utc":true},{"year":2004,"month":6,"date":18,"utc":true},{"year":2004,"month":12,"date":15,"utc":true},{"year":2005,"month":6,"date":13,"utc":true},{"year":2005,"month":12,"date":10,"utc":true},{"year":2006,"month":6,"date":6,"utc":true},{"year":2006,"month":12,"date":1,"utc":true}]}},
           "y": {"field": "v", "type": "quantitative", "scale": {"domain": [-100, 100], "nice": false}, "axis": {"title": "Relative retrieval difference in shortwave broadband albedo [%]", "titleFontSize": 18.5, "titlePadding": 22, "values": [-100, 0, 100], "labelExpr": "'' + datum.value"}}
         }},
        {"data": {"name": "ref"}, "transform": [{"filter": "abs(datum.v) > 20"}], "mark": {"type": "rule", "color": "#ff0000", "strokeDash": [1.5, 2.5], "strokeWidth": 1.2, "opacity": 0.65},
         "encoding": {"y": {"field": "v", "type": "quantitative", "scale": {"domain": [-100, 100], "nice": false}, "axis": null}}},
        {"data": {"name": "ref"}, "transform": [{"filter": "abs(datum.v) < 20"}], "mark": {"type": "rule", "color": "#0000ff", "strokeDash": [1.5, 2.5], "strokeWidth": 1.2, "opacity": 0.65},
         "encoding": {"y": {"field": "v", "type": "quantitative", "scale": {"domain": [-100, 100], "nice": false}, "axis": null}}},
        {"data": {"name": "mon3"}, "mark": {"type": "line", "interpolate": "step-after", "color": "#000000", "strokeWidth": 1.6, "clip": true},
         "encoding": {
           "x": {"field": "t", "type": "temporal", "scale": {"type": "utc", "nice": false, "domain": [{"year":2002,"month":1,"date":1,"utc":true},{"year":2006,"month":12,"date":1,"utc":true}]}, "axis": null},
           "y": {"field": "v", "type": "quantitative", "scale": {"domain": [-100, 100], "nice": false}, "axis": null},
           "detail": {"field": "g", "type": "nominal"}
         }},
        {"data": {"name": "pen3"}, "mark": {"type": "line", "interpolate": "step-after", "color": "#ff0000", "strokeWidth": 1.6, "clip": true},
         "encoding": {
           "x": {"field": "t", "type": "temporal", "scale": {"type": "utc", "nice": false, "domain": [{"year":2002,"month":1,"date":1,"utc":true},{"year":2006,"month":12,"date":1,"utc":true}]},
                 "axis": {"orient": "top", "title": null, "labels": false, "values": [{"year":2002,"month":1,"date":1,"utc":true},{"year":2002,"month":6,"date":29,"utc":true},{"year":2002,"month":12,"date":26,"utc":true},{"year":2003,"month":6,"date":24,"utc":true},{"year":2003,"month":12,"date":21,"utc":true},{"year":2004,"month":6,"date":18,"utc":true},{"year":2004,"month":12,"date":15,"utc":true},{"year":2005,"month":6,"date":13,"utc":true},{"year":2005,"month":12,"date":10,"utc":true},{"year":2006,"month":6,"date":6,"utc":true},{"year":2006,"month":12,"date":1,"utc":true}]}},
           "y": {"field": "v", "type": "quantitative", "scale": {"domain": [-100, 100], "nice": false}, "axis": {"orient": "right", "title": null, "labels": false, "values": [-100, 0, 100]}},
           "detail": {"field": "g", "type": "nominal"}
         }}
      ]
    },
    {
      "width": 1043, "height": 95,
      "resolve": {"axis": {"x": "independent", "y": "independent"}},
      "layer": [
        {"data": {"name": "pts4"}, "mark": {"type": "point", "shape": "M-0.12,0A0.12,0.12,0,1,0,0.12,0A0.12,0.12,0,1,0,-0.12,0Z", "size": 484, "filled": false, "strokeWidth": 1.8, "color": "#6a6aff", "opacity": 0.7, "clip": true},
         "encoding": {
           "x": {"field": "t", "type": "temporal", "scale": {"type": "utc", "nice": false, "domain": [{"year":2007,"month":1,"date":1,"utc":true},{"year":2011,"month":12,"date":1,"utc":true}]},
                 "axis": {"title": null, "format": "%m / %Y", "values": [{"year":2007,"month":1,"date":1,"utc":true},{"year":2007,"month":6,"date":29,"utc":true},{"year":2007,"month":12,"date":26,"utc":true},{"year":2008,"month":6,"date":24,"utc":true},{"year":2008,"month":12,"date":21,"utc":true},{"year":2009,"month":6,"date":18,"utc":true},{"year":2009,"month":12,"date":15,"utc":true},{"year":2010,"month":6,"date":13,"utc":true},{"year":2010,"month":12,"date":10,"utc":true},{"year":2011,"month":6,"date":6,"utc":true},{"year":2011,"month":12,"date":1,"utc":true}]}},
           "y": {"field": "v", "type": "quantitative", "scale": {"domain": [-100, 100], "nice": false}, "axis": {"title": null, "values": [-100, 0, 100], "labelExpr": "'' + datum.value"}}
         }},
        {"data": {"name": "ref"}, "transform": [{"filter": "abs(datum.v) > 20"}], "mark": {"type": "rule", "color": "#ff0000", "strokeDash": [1.5, 2.5], "strokeWidth": 1.2, "opacity": 0.65},
         "encoding": {"y": {"field": "v", "type": "quantitative", "scale": {"domain": [-100, 100], "nice": false}, "axis": null}}},
        {"data": {"name": "ref"}, "transform": [{"filter": "abs(datum.v) < 20"}], "mark": {"type": "rule", "color": "#0000ff", "strokeDash": [1.5, 2.5], "strokeWidth": 1.2, "opacity": 0.65},
         "encoding": {"y": {"field": "v", "type": "quantitative", "scale": {"domain": [-100, 100], "nice": false}, "axis": null}}},
        {"data": {"name": "mon4"}, "mark": {"type": "line", "interpolate": "step-after", "color": "#000000", "strokeWidth": 1.6, "clip": true},
         "encoding": {
           "x": {"field": "t", "type": "temporal", "scale": {"type": "utc", "nice": false, "domain": [{"year":2007,"month":1,"date":1,"utc":true},{"year":2011,"month":12,"date":1,"utc":true}]}, "axis": null},
           "y": {"field": "v", "type": "quantitative", "scale": {"domain": [-100, 100], "nice": false}, "axis": null},
           "detail": {"field": "g", "type": "nominal"}
         }},
        {"data": {"name": "pen4"}, "mark": {"type": "line", "interpolate": "step-after", "color": "#ff0000", "strokeWidth": 1.6, "clip": true},
         "encoding": {
           "x": {"field": "t", "type": "temporal", "scale": {"type": "utc", "nice": false, "domain": [{"year":2007,"month":1,"date":1,"utc":true},{"year":2011,"month":12,"date":1,"utc":true}]},
                 "axis": {"orient": "top", "title": null, "labels": false, "values": [{"year":2007,"month":1,"date":1,"utc":true},{"year":2007,"month":6,"date":29,"utc":true},{"year":2007,"month":12,"date":26,"utc":true},{"year":2008,"month":6,"date":24,"utc":true},{"year":2008,"month":12,"date":21,"utc":true},{"year":2009,"month":6,"date":18,"utc":true},{"year":2009,"month":12,"date":15,"utc":true},{"year":2010,"month":6,"date":13,"utc":true},{"year":2010,"month":12,"date":10,"utc":true},{"year":2011,"month":6,"date":6,"utc":true},{"year":2011,"month":12,"date":1,"utc":true}]}},
           "y": {"field": "v", "type": "quantitative", "scale": {"domain": [-100, 100], "nice": false}, "axis": {"orient": "right", "title": null, "labels": false, "values": [-100, 0, 100]}},
           "detail": {"field": "g", "type": "nominal"}
         }}
      ]
    },
    {
      "width": 1043, "height": 95,
      "resolve": {"axis": {"x": "independent", "y": "independent"}},
      "layer": [
        {"data": {"name": "pts5"}, "mark": {"type": "point", "size": 484, "filled": false, "strokeWidth": 1.8, "opacity": 0.7, "clip": true},
         "encoding": {
           "x": {"field": "t", "type": "temporal", "scale": {"type": "utc", "nice": false, "domain": [{"year":2012,"month":1,"date":1,"utc":true},{"year":2016,"month":12,"date":1,"utc":true}]},
                 "axis": {"title": "Date", "titleFontSize": 14, "titlePadding": 1, "format": "%m / %Y", "values": [{"year":2012,"month":1,"date":1,"utc":true},{"year":2012,"month":6,"date":29,"utc":true},{"year":2012,"month":12,"date":26,"utc":true},{"year":2013,"month":6,"date":24,"utc":true},{"year":2013,"month":12,"date":21,"utc":true},{"year":2014,"month":6,"date":18,"utc":true},{"year":2014,"month":12,"date":15,"utc":true},{"year":2015,"month":6,"date":13,"utc":true},{"year":2015,"month":12,"date":10,"utc":true},{"year":2016,"month":6,"date":6,"utc":true},{"year":2016,"month":12,"date":1,"utc":true}]}},
           "y": {"field": "v", "type": "quantitative", "scale": {"domain": [-100, 100], "nice": false}, "axis": {"title": null, "values": [-100, 0, 100], "labelExpr": "'' + datum.value"}},
           "color": {"datum": "SAL observed retrieval relative differences", "type": "nominal",
             "scale": {"domain": ["SAL observed retrieval relative differences", "SAL observed monthly mean relative difference", "SAL observed pentad mean relative difference"], "range": ["#6a6aff", "#000000", "#ff0000"]},
             "legend": {"title": null, "orient": "none", "legendX": 141, "legendY": 680, "direction": "horizontal", "strokeColor": "#b0b0b0", "fillColor": "#ffffff", "padding": 1, "labelFont": "Liberation Sans Narrow, Liberation Sans", "labelFontSize": 11.5, "labelColor": "#000000", "labelOffset": 4, "labelLimit": 400, "columnPadding": 4, "symbolSize": 400, "symbolStrokeWidth": 1.5, "symbolOpacity": 1}},
           "shape": {"datum": "SAL observed retrieval relative differences", "type": "nominal",
             "scale": {"domain": ["SAL observed retrieval relative differences", "SAL observed monthly mean relative difference", "SAL observed pentad mean relative difference"], "range": ["M-0.12,0A0.12,0.12,0,1,0,0.12,0A0.12,0.12,0,1,0,-0.12,0Z", "stroke", "stroke"]},
             "legend": {"title": null, "orient": "none", "legendX": 141, "legendY": 680, "direction": "horizontal", "strokeColor": "#b0b0b0", "fillColor": "#ffffff", "padding": 1, "labelFont": "Liberation Sans Narrow, Liberation Sans", "labelFontSize": 11.5, "labelColor": "#000000", "labelOffset": 4, "labelLimit": 400, "columnPadding": 4, "symbolSize": 400, "symbolStrokeWidth": 1.5, "symbolOpacity": 1}}
         }},
        {"data": {"name": "ref"}, "transform": [{"filter": "abs(datum.v) > 20"}], "mark": {"type": "rule", "color": "#ff0000", "strokeDash": [1.5, 2.5], "strokeWidth": 1.2, "opacity": 0.65},
         "encoding": {"y": {"field": "v", "type": "quantitative", "scale": {"domain": [-100, 100], "nice": false}, "axis": null}}},
        {"data": {"name": "ref"}, "transform": [{"filter": "abs(datum.v) < 20"}], "mark": {"type": "rule", "color": "#0000ff", "strokeDash": [1.5, 2.5], "strokeWidth": 1.2, "opacity": 0.65},
         "encoding": {"y": {"field": "v", "type": "quantitative", "scale": {"domain": [-100, 100], "nice": false}, "axis": null}}},
        {"data": {"name": "mon5"}, "mark": {"type": "line", "interpolate": "step-after", "strokeWidth": 1.6, "clip": true},
         "encoding": {
           "x": {"field": "t", "type": "temporal", "scale": {"type": "utc", "nice": false, "domain": [{"year":2012,"month":1,"date":1,"utc":true},{"year":2016,"month":12,"date":1,"utc":true}]}, "axis": null},
           "y": {"field": "v", "type": "quantitative", "scale": {"domain": [-100, 100], "nice": false}, "axis": null},
           "color": {"datum": "SAL observed monthly mean relative difference", "type": "nominal"},
           "detail": {"field": "g", "type": "nominal"}
         }},
        {"data": {"name": "pen5"}, "mark": {"type": "line", "interpolate": "step-after", "strokeWidth": 1.6, "clip": true},
         "encoding": {
           "x": {"field": "t", "type": "temporal", "scale": {"type": "utc", "nice": false, "domain": [{"year":2012,"month":1,"date":1,"utc":true},{"year":2016,"month":12,"date":1,"utc":true}]},
                 "axis": {"orient": "top", "title": null, "labels": false, "values": [{"year":2012,"month":1,"date":1,"utc":true},{"year":2012,"month":6,"date":29,"utc":true},{"year":2012,"month":12,"date":26,"utc":true},{"year":2013,"month":6,"date":24,"utc":true},{"year":2013,"month":12,"date":21,"utc":true},{"year":2014,"month":6,"date":18,"utc":true},{"year":2014,"month":12,"date":15,"utc":true},{"year":2015,"month":6,"date":13,"utc":true},{"year":2015,"month":12,"date":10,"utc":true},{"year":2016,"month":6,"date":6,"utc":true},{"year":2016,"month":12,"date":1,"utc":true}]}},
           "y": {"field": "v", "type": "quantitative", "scale": {"domain": [-100, 100], "nice": false}, "axis": {"orient": "right", "title": null, "labels": false, "values": [-100, 0, 100]}},
           "color": {"datum": "SAL observed pentad mean relative difference", "type": "nominal"},
           "detail": {"field": "g", "type": "nominal"}
         }}
      ]
    }
  ]
}
